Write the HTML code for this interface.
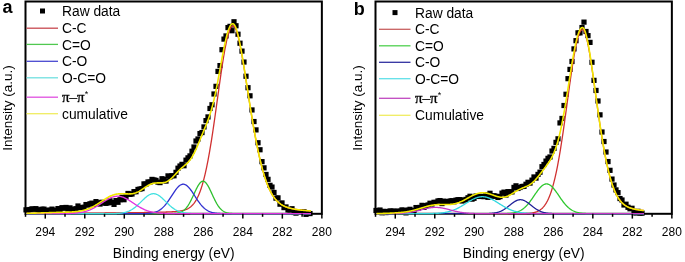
<!DOCTYPE html>
<html><head><meta charset="utf-8"><style>
html,body{margin:0;padding:0;background:#fff;width:685px;height:262px;overflow:hidden}
svg{display:block;will-change:transform}
text{font-family:"Liberation Sans",sans-serif;fill:#000}
</style></head><body>
<svg width="685" height="262" viewBox="0 0 685 262">
<rect x="25.5" y="1.5" width="296.36" height="212.3" fill="none" stroke="#000" stroke-width="2"/>
<g fill="#000"><rect x="23.4" y="207.25" width="5.2" height="5.2"/><rect x="25.4" y="207.55" width="5.2" height="5.2"/><rect x="27.4" y="206.92" width="5.2" height="5.2"/><rect x="29.4" y="206.25" width="5.2" height="5.2"/><rect x="31.4" y="206.68" width="5.2" height="5.2"/><rect x="33.4" y="206.07" width="5.2" height="5.2"/><rect x="35.4" y="207.16" width="5.2" height="5.2"/><rect x="37.4" y="208.48" width="5.2" height="5.2"/><rect x="39.4" y="206.61" width="5.2" height="5.2"/><rect x="41.4" y="206.56" width="5.2" height="5.2"/><rect x="43.4" y="207.82" width="5.2" height="5.2"/><rect x="45.4" y="207.76" width="5.2" height="5.2"/><rect x="47.4" y="207.58" width="5.2" height="5.2"/><rect x="49.4" y="206.54" width="5.2" height="5.2"/><rect x="51.4" y="207.59" width="5.2" height="5.2"/><rect x="53.4" y="208.34" width="5.2" height="5.2"/><rect x="55.4" y="205.99" width="5.2" height="5.2"/><rect x="57.4" y="206.8" width="5.2" height="5.2"/><rect x="59.4" y="205.09" width="5.2" height="5.2"/><rect x="61.4" y="205.61" width="5.2" height="5.2"/><rect x="63.4" y="204.86" width="5.2" height="5.2"/><rect x="65.4" y="206.44" width="5.2" height="5.2"/><rect x="67.4" y="205.28" width="5.2" height="5.2"/><rect x="69.4" y="206.88" width="5.2" height="5.2"/><rect x="71.4" y="206.66" width="5.2" height="5.2"/><rect x="73.4" y="206.14" width="5.2" height="5.2"/><rect x="75.4" y="203.39" width="5.2" height="5.2"/><rect x="77.4" y="205.07" width="5.2" height="5.2"/><rect x="79.4" y="205.05" width="5.2" height="5.2"/><rect x="81.4" y="204.58" width="5.2" height="5.2"/><rect x="83.4" y="201.97" width="5.2" height="5.2"/><rect x="85.4" y="202.48" width="5.2" height="5.2"/><rect x="87.4" y="201.2" width="5.2" height="5.2"/><rect x="89.4" y="200.56" width="5.2" height="5.2"/><rect x="91.4" y="201.85" width="5.2" height="5.2"/><rect x="93.4" y="199.02" width="5.2" height="5.2"/><rect x="95.4" y="200.15" width="5.2" height="5.2"/><rect x="97.4" y="201.44" width="5.2" height="5.2"/><rect x="99.4" y="199.67" width="5.2" height="5.2"/><rect x="101.4" y="200.39" width="5.2" height="5.2"/><rect x="103.4" y="200.72" width="5.2" height="5.2"/><rect x="105.4" y="200.25" width="5.2" height="5.2"/><rect x="107.4" y="198.23" width="5.2" height="5.2"/><rect x="109.4" y="199.9" width="5.2" height="5.2"/><rect x="111.4" y="201.77" width="5.2" height="5.2"/><rect x="113.4" y="197.98" width="5.2" height="5.2"/><rect x="115.4" y="199.69" width="5.2" height="5.2"/><rect x="117.4" y="197.13" width="5.2" height="5.2"/><rect x="119.4" y="194.68" width="5.2" height="5.2"/><rect x="121.4" y="197.11" width="5.2" height="5.2"/><rect x="123.4" y="194.45" width="5.2" height="5.2"/><rect x="125.4" y="190.87" width="5.2" height="5.2"/><rect x="127.4" y="191.76" width="5.2" height="5.2"/><rect x="129.4" y="191.41" width="5.2" height="5.2"/><rect x="131.4" y="189.06" width="5.2" height="5.2"/><rect x="133.4" y="189.12" width="5.2" height="5.2"/><rect x="135.4" y="186.84" width="5.2" height="5.2"/><rect x="137.4" y="186.46" width="5.2" height="5.2"/><rect x="139.4" y="185.98" width="5.2" height="5.2"/><rect x="141.4" y="181.31" width="5.2" height="5.2"/><rect x="143.4" y="181.46" width="5.2" height="5.2"/><rect x="145.4" y="179.39" width="5.2" height="5.2"/><rect x="147.4" y="179.45" width="5.2" height="5.2"/><rect x="149.4" y="176.81" width="5.2" height="5.2"/><rect x="151.4" y="177.36" width="5.2" height="5.2"/><rect x="153.4" y="177.79" width="5.2" height="5.2"/><rect x="155.4" y="179.53" width="5.2" height="5.2"/><rect x="157.4" y="180" width="5.2" height="5.2"/><rect x="159.4" y="176.14" width="5.2" height="5.2"/><rect x="161.4" y="176.77" width="5.2" height="5.2"/><rect x="163.4" y="178.48" width="5.2" height="5.2"/><rect x="165.4" y="173.28" width="5.2" height="5.2"/><rect x="167.4" y="174.31" width="5.2" height="5.2"/><rect x="169.4" y="173.13" width="5.2" height="5.2"/><rect x="171.4" y="173.17" width="5.2" height="5.2"/><rect x="173.4" y="169.72" width="5.2" height="5.2"/><rect x="175.4" y="165.6" width="5.2" height="5.2"/><rect x="177.4" y="163.43" width="5.2" height="5.2"/><rect x="179.4" y="161.76" width="5.2" height="5.2"/><rect x="181.4" y="163.13" width="5.2" height="5.2"/><rect x="183.4" y="157.55" width="5.2" height="5.2"/><rect x="185.4" y="155.24" width="5.2" height="5.2"/><rect x="187.4" y="153.3" width="5.2" height="5.2"/><rect x="189.4" y="148.63" width="5.2" height="5.2"/><rect x="191.4" y="144.41" width="5.2" height="5.2"/><rect x="193.4" y="138.41" width="5.2" height="5.2"/><rect x="195.4" y="136.4" width="5.2" height="5.2"/><rect x="197.4" y="130.97" width="5.2" height="5.2"/><rect x="199.4" y="129.96" width="5.2" height="5.2"/><rect x="201.4" y="124.32" width="5.2" height="5.2"/><rect x="203.4" y="118.02" width="5.2" height="5.2"/><rect x="205.4" y="114.33" width="5.2" height="5.2"/><rect x="207.4" y="105.87" width="5.2" height="5.2"/><rect x="209.4" y="102.16" width="5.2" height="5.2"/><rect x="211.4" y="91.39" width="5.2" height="5.2"/><rect x="213.4" y="83.74" width="5.2" height="5.2"/><rect x="215.4" y="68.83" width="5.2" height="5.2"/><rect x="217.4" y="62.99" width="5.2" height="5.2"/><rect x="219.4" y="47.09" width="5.2" height="5.2"/><rect x="221.4" y="36.51" width="5.2" height="5.2"/><rect x="223.4" y="33.33" width="5.2" height="5.2"/><rect x="225.4" y="24.98" width="5.2" height="5.2"/><rect x="227.4" y="23.77" width="5.2" height="5.2"/><rect x="229.4" y="28.12" width="5.2" height="5.2"/><rect x="231.4" y="19.16" width="5.2" height="5.2"/><rect x="233.4" y="23.15" width="5.2" height="5.2"/><rect x="235.4" y="31.63" width="5.2" height="5.2"/><rect x="237.4" y="40.63" width="5.2" height="5.2"/><rect x="239.4" y="48.51" width="5.2" height="5.2"/><rect x="241.4" y="59.45" width="5.2" height="5.2"/><rect x="243.4" y="73.63" width="5.2" height="5.2"/><rect x="245.4" y="85.1" width="5.2" height="5.2"/><rect x="247.4" y="93.2" width="5.2" height="5.2"/><rect x="249.4" y="107.35" width="5.2" height="5.2"/><rect x="251.4" y="118.94" width="5.2" height="5.2"/><rect x="253.4" y="127.3" width="5.2" height="5.2"/><rect x="255.4" y="140.15" width="5.2" height="5.2"/><rect x="257.4" y="147.16" width="5.2" height="5.2"/><rect x="259.4" y="159.05" width="5.2" height="5.2"/><rect x="261.4" y="165.25" width="5.2" height="5.2"/><rect x="263.4" y="171.87" width="5.2" height="5.2"/><rect x="265.4" y="176.75" width="5.2" height="5.2"/><rect x="267.4" y="182.73" width="5.2" height="5.2"/><rect x="269.4" y="184.45" width="5.2" height="5.2"/><rect x="271.4" y="189.86" width="5.2" height="5.2"/><rect x="273.4" y="195.57" width="5.2" height="5.2"/><rect x="275.4" y="195.27" width="5.2" height="5.2"/><rect x="277.4" y="201.58" width="5.2" height="5.2"/><rect x="279.4" y="200.32" width="5.2" height="5.2"/><rect x="281.4" y="205" width="5.2" height="5.2"/><rect x="283.4" y="204.35" width="5.2" height="5.2"/><rect x="285.4" y="207.3" width="5.2" height="5.2"/><rect x="287.4" y="207.36" width="5.2" height="5.2"/><rect x="289.4" y="206.13" width="5.2" height="5.2"/><rect x="291.4" y="209.87" width="5.2" height="5.2"/><rect x="293.4" y="210.51" width="5.2" height="5.2"/><rect x="295.4" y="209.19" width="5.2" height="5.2"/><rect x="297.4" y="209.31" width="5.2" height="5.2"/><rect x="299.4" y="209.76" width="5.2" height="5.2"/><rect x="301.4" y="209.15" width="5.2" height="5.2"/><rect x="303.4" y="211.74" width="5.2" height="5.2"/><rect x="305.4" y="210.18" width="5.2" height="5.2"/><rect x="307.4" y="210.97" width="5.2" height="5.2"/></g>
<polyline fill="none" stroke="#d03030" stroke-width="1.3" stroke-linejoin="round" points="26.5,213.41 27,213.41 27.5,213.4 28,213.4 28.5,213.4 29,213.4 29.5,213.4 30,213.4 30.5,213.4 31,213.4 31.5,213.39 32,213.39 32.5,213.39 33,213.39 33.5,213.39 34,213.39 34.5,213.39 35,213.38 35.5,213.38 36,213.38 36.5,213.38 37,213.38 37.5,213.38 38,213.38 38.5,213.37 39,213.37 39.5,213.37 40,213.37 40.5,213.37 41,213.37 41.5,213.36 42,213.36 42.5,213.36 43,213.36 43.5,213.36 44,213.36 44.5,213.35 45,213.35 45.5,213.35 46,213.35 46.5,213.35 47,213.35 47.5,213.34 48,213.34 48.5,213.34 49,213.34 49.5,213.34 50,213.34 50.5,213.33 51,213.33 51.5,213.33 52,213.33 52.5,213.33 53,213.32 53.5,213.32 54,213.32 54.5,213.32 55,213.32 55.5,213.31 56,213.31 56.5,213.31 57,213.31 57.5,213.31 58,213.3 58.5,213.3 59,213.3 59.5,213.3 60,213.3 60.5,213.29 61,213.29 61.5,213.29 62,213.29 62.5,213.29 63,213.28 63.5,213.28 64,213.28 64.5,213.28 65,213.28 65.5,213.27 66,213.27 66.5,213.27 67,213.27 67.5,213.26 68,213.26 68.5,213.26 69,213.26 69.5,213.25 70,213.25 70.5,213.25 71,213.25 71.5,213.24 72,213.24 72.5,213.24 73,213.24 73.5,213.23 74,213.23 74.5,213.23 75,213.23 75.5,213.22 76,213.22 76.5,213.22 77,213.22 77.5,213.21 78,213.21 78.5,213.21 79,213.2 79.5,213.2 80,213.2 80.5,213.2 81,213.19 81.5,213.19 82,213.19 82.5,213.18 83,213.18 83.5,213.18 84,213.18 84.5,213.17 85,213.17 85.5,213.17 86,213.16 86.5,213.16 87,213.16 87.5,213.15 88,213.15 88.5,213.15 89,213.14 89.5,213.14 90,213.14 90.5,213.13 91,213.13 91.5,213.13 92,213.12 92.5,213.12 93,213.12 93.5,213.11 94,213.11 94.5,213.11 95,213.1 95.5,213.1 96,213.1 96.5,213.09 97,213.09 97.5,213.08 98,213.08 98.5,213.08 99,213.07 99.5,213.07 100,213.06 100.5,213.06 101,213.06 101.5,213.05 102,213.05 102.5,213.04 103,213.04 103.5,213.04 104,213.03 104.5,213.03 105,213.02 105.5,213.02 106,213.01 106.5,213.01 107,213.01 107.5,213 108,213 108.5,212.99 109,212.99 109.5,212.98 110,212.98 110.5,212.97 111,212.97 111.5,212.96 112,212.96 112.5,212.95 113,212.95 113.5,212.94 114,212.94 114.5,212.93 115,212.93 115.5,212.92 116,212.92 116.5,212.91 117,212.91 117.5,212.9 118,212.9 118.5,212.89 119,212.89 119.5,212.88 120,212.87 120.5,212.87 121,212.86 121.5,212.86 122,212.85 122.5,212.84 123,212.84 123.5,212.83 124,212.83 124.5,212.82 125,212.81 125.5,212.81 126,212.8 126.5,212.8 127,212.79 127.5,212.78 128,212.78 128.5,212.77 129,212.76 129.5,212.76 130,212.75 130.5,212.74 131,212.73 131.5,212.73 132,212.72 132.5,212.71 133,212.71 133.5,212.7 134,212.69 134.5,212.68 135,212.68 135.5,212.67 136,212.66 136.5,212.65 137,212.64 137.5,212.64 138,212.63 138.5,212.62 139,212.61 139.5,212.6 140,212.6 140.5,212.59 141,212.58 141.5,212.57 142,212.56 142.5,212.55 143,212.54 143.5,212.54 144,212.53 144.5,212.52 145,212.51 145.5,212.5 146,212.49 146.5,212.48 147,212.47 147.5,212.46 148,212.45 148.5,212.44 149,212.43 149.5,212.42 150,212.41 150.5,212.4 151,212.39 151.5,212.38 152,212.37 152.5,212.36 153,212.35 153.5,212.34 154,212.33 154.5,212.31 155,212.3 155.5,212.29 156,212.28 156.5,212.27 157,212.26 157.5,212.24 158,212.23 158.5,212.22 159,212.21 159.5,212.2 160,212.18 160.5,212.17 161,212.16 161.5,212.14 162,212.13 162.5,212.12 163,212.1 163.5,212.09 164,212.07 164.5,212.06 165,212.04 165.5,212.03 166,212.01 166.5,212 167,211.98 167.5,211.96 168,211.94 168.5,211.93 169,211.91 169.5,211.89 170,211.87 170.5,211.84 171,211.82 171.5,211.8 172,211.77 172.5,211.75 173,211.72 173.5,211.69 174,211.66 174.5,211.63 175,211.59 175.5,211.55 176,211.51 176.5,211.47 177,211.42 177.5,211.37 178,211.32 178.5,211.26 179,211.2 179.5,211.13 180,211.06 180.5,210.98 181,210.89 181.5,210.8 182,210.7 182.5,210.59 183,210.47 183.5,210.34 184,210.2 184.5,210.05 185,209.89 185.5,209.71 186,209.52 186.5,209.31 187,209.08 187.5,208.84 188,208.58 188.5,208.29 189,207.98 189.5,207.65 190,207.29 190.5,206.91 191,206.5 191.5,206.05 192,205.57 192.5,205.06 193,204.51 193.5,203.92 194,203.29 194.5,202.62 195,201.9 195.5,201.14 196,200.32 196.5,199.46 197,198.53 197.5,197.56 198,196.52 198.5,195.42 199,194.26 199.5,193.03 200,191.73 200.5,190.37 201,188.93 201.5,187.42 202,185.83 202.5,184.16 203,182.42 203.5,180.59 204,178.68 204.5,176.69 205,174.61 205.5,172.45 206,170.21 206.5,167.88 207,165.46 207.5,162.96 208,160.38 208.5,157.71 209,154.96 209.5,152.13 210,149.22 210.5,146.23 211,143.17 211.5,140.04 212,136.85 212.5,133.59 213,130.27 213.5,126.89 214,123.46 214.5,119.99 215,116.48 215.5,112.94 216,109.36 216.5,105.77 217,102.16 217.5,98.55 218,94.94 218.5,91.33 219,87.74 219.5,84.18 220,80.64 220.5,77.15 221,73.7 221.5,70.32 222,66.99 222.5,63.75 223,60.58 223.5,57.51 224,54.53 224.5,51.67 225,48.92 225.5,46.29 226,43.79 226.5,41.44 227,39.22 227.5,37.16 228,35.26 228.5,33.52 229,31.94 229.5,30.55 230,29.32 230.5,28.28 231,27.43 231.5,26.76 232,26.28 232.5,26 233,25.9 233.5,26.01 234,26.33 234.5,26.86 235,27.61 235.5,28.56 236,29.7 236.5,31.04 237,32.56 237.5,34.26 238,36.12 238.5,38.14 239,40.3 239.5,42.59 240,45.01 240.5,47.55 241,50.18 241.5,52.92 242,55.73 242.5,58.62 243,61.58 243.5,64.59 244,67.65 244.5,70.75 245,73.88 245.5,77.04 246,80.22 246.5,83.41 247,86.61 247.5,89.81 248,93 248.5,96.19 249,99.36 249.5,102.52 250,105.66 250.5,108.77 251,111.85 251.5,114.89 252,117.91 252.5,120.88 253,123.81 253.5,126.7 254,129.54 254.5,132.34 255,135.08 255.5,137.77 256,140.41 256.5,142.99 257,145.52 257.5,147.99 258,150.4 258.5,152.75 259,155.04 259.5,157.27 260,159.44 260.5,161.55 261,163.59 261.5,165.58 262,167.5 262.5,169.37 263,171.17 263.5,172.92 264,174.6 264.5,176.23 265,177.79 265.5,179.3 266,180.76 266.5,182.16 267,183.5 267.5,184.79 268,186.03 268.5,187.22 269,188.36 269.5,189.45 270,190.5 270.5,191.5 271,192.45 271.5,193.36 272,194.23 272.5,195.06 273,195.85 273.5,196.61 274,197.33 274.5,198.01 275,198.66 275.5,199.28 276,199.86 276.5,200.42 277,200.95 277.5,201.45 278,201.93 278.5,202.38 279,202.81 279.5,203.22 280,203.6 280.5,203.97 281,204.32 281.5,204.64 282,204.95 282.5,205.25 283,205.53 283.5,205.79 284,206.04 284.5,206.28 285,206.5 285.5,206.72 286,206.92 286.5,207.11 287,207.29 287.5,207.47 288,207.63 288.5,207.79 289,207.94 289.5,208.08 290,208.21 290.5,208.34 291,208.46 291.5,208.58 292,208.69 292.5,208.8 293,208.9 293.5,208.99 294,209.09 294.5,209.18 295,209.26 295.5,209.35 296,209.43 296.5,209.5 297,209.58 297.5,209.65 298,209.72 298.5,209.78 299,209.85 299.5,209.91 300,209.97 300.5,210.03 301,210.08 301.5,210.14 302,210.19 302.5,210.24 303,210.29 303.5,210.34 304,210.39 304.5,210.43 305,210.48 305.5,210.52 306,210.57 306.5,210.61 307,210.65 307.5,210.69 308,210.73 308.5,210.77 309,210.81 309.5,210.84 310,210.88 310.5,210.91 311,210.95"/>
<polyline fill="none" stroke="#30c030" stroke-width="1.3" stroke-linejoin="round" points="26.5,213.7 27,213.7 27.5,213.7 28,213.7 28.5,213.7 29,213.7 29.5,213.7 30,213.7 30.5,213.7 31,213.7 31.5,213.7 32,213.7 32.5,213.7 33,213.7 33.5,213.7 34,213.7 34.5,213.7 35,213.7 35.5,213.7 36,213.7 36.5,213.7 37,213.7 37.5,213.7 38,213.7 38.5,213.7 39,213.7 39.5,213.7 40,213.7 40.5,213.7 41,213.7 41.5,213.7 42,213.7 42.5,213.7 43,213.7 43.5,213.7 44,213.7 44.5,213.7 45,213.7 45.5,213.7 46,213.7 46.5,213.7 47,213.7 47.5,213.7 48,213.7 48.5,213.7 49,213.7 49.5,213.7 50,213.7 50.5,213.7 51,213.7 51.5,213.7 52,213.7 52.5,213.7 53,213.7 53.5,213.7 54,213.7 54.5,213.7 55,213.7 55.5,213.7 56,213.7 56.5,213.7 57,213.7 57.5,213.7 58,213.7 58.5,213.7 59,213.7 59.5,213.7 60,213.7 60.5,213.7 61,213.7 61.5,213.7 62,213.7 62.5,213.7 63,213.7 63.5,213.7 64,213.7 64.5,213.7 65,213.7 65.5,213.7 66,213.7 66.5,213.7 67,213.7 67.5,213.7 68,213.7 68.5,213.7 69,213.7 69.5,213.7 70,213.7 70.5,213.7 71,213.7 71.5,213.7 72,213.7 72.5,213.7 73,213.7 73.5,213.7 74,213.7 74.5,213.7 75,213.7 75.5,213.7 76,213.7 76.5,213.7 77,213.7 77.5,213.7 78,213.7 78.5,213.7 79,213.7 79.5,213.7 80,213.7 80.5,213.7 81,213.7 81.5,213.7 82,213.7 82.5,213.7 83,213.7 83.5,213.7 84,213.7 84.5,213.7 85,213.7 85.5,213.7 86,213.7 86.5,213.7 87,213.7 87.5,213.7 88,213.7 88.5,213.7 89,213.7 89.5,213.7 90,213.7 90.5,213.7 91,213.7 91.5,213.7 92,213.7 92.5,213.7 93,213.7 93.5,213.7 94,213.7 94.5,213.7 95,213.7 95.5,213.7 96,213.7 96.5,213.7 97,213.7 97.5,213.7 98,213.7 98.5,213.7 99,213.7 99.5,213.7 100,213.7 100.5,213.7 101,213.7 101.5,213.7 102,213.7 102.5,213.7 103,213.7 103.5,213.7 104,213.7 104.5,213.7 105,213.7 105.5,213.7 106,213.7 106.5,213.7 107,213.7 107.5,213.7 108,213.7 108.5,213.7 109,213.7 109.5,213.7 110,213.7 110.5,213.7 111,213.7 111.5,213.7 112,213.7 112.5,213.7 113,213.7 113.5,213.7 114,213.7 114.5,213.7 115,213.7 115.5,213.7 116,213.7 116.5,213.7 117,213.7 117.5,213.7 118,213.7 118.5,213.7 119,213.7 119.5,213.7 120,213.7 120.5,213.7 121,213.7 121.5,213.7 122,213.7 122.5,213.7 123,213.7 123.5,213.7 124,213.7 124.5,213.7 125,213.7 125.5,213.7 126,213.7 126.5,213.7 127,213.7 127.5,213.7 128,213.7 128.5,213.7 129,213.7 129.5,213.7 130,213.7 130.5,213.7 131,213.7 131.5,213.7 132,213.7 132.5,213.7 133,213.7 133.5,213.7 134,213.7 134.5,213.7 135,213.7 135.5,213.7 136,213.7 136.5,213.7 137,213.7 137.5,213.7 138,213.7 138.5,213.7 139,213.7 139.5,213.7 140,213.7 140.5,213.7 141,213.7 141.5,213.7 142,213.7 142.5,213.7 143,213.7 143.5,213.7 144,213.7 144.5,213.7 145,213.7 145.5,213.7 146,213.7 146.5,213.7 147,213.7 147.5,213.7 148,213.7 148.5,213.7 149,213.7 149.5,213.7 150,213.7 150.5,213.7 151,213.7 151.5,213.7 152,213.7 152.5,213.7 153,213.7 153.5,213.7 154,213.7 154.5,213.7 155,213.7 155.5,213.7 156,213.7 156.5,213.7 157,213.7 157.5,213.7 158,213.7 158.5,213.7 159,213.7 159.5,213.7 160,213.7 160.5,213.7 161,213.7 161.5,213.7 162,213.7 162.5,213.7 163,213.7 163.5,213.7 164,213.7 164.5,213.7 165,213.7 165.5,213.69 166,213.69 166.5,213.69 167,213.69 167.5,213.69 168,213.68 168.5,213.68 169,213.67 169.5,213.67 170,213.66 170.5,213.65 171,213.64 171.5,213.63 172,213.61 172.5,213.6 173,213.57 173.5,213.55 174,213.52 174.5,213.48 175,213.44 175.5,213.39 176,213.34 176.5,213.27 177,213.2 177.5,213.11 178,213.01 178.5,212.9 179,212.77 179.5,212.63 180,212.46 180.5,212.27 181,212.06 181.5,211.83 182,211.56 182.5,211.27 183,210.95 183.5,210.59 184,210.2 184.5,209.77 185,209.3 185.5,208.79 186,208.24 186.5,207.65 187,207.01 187.5,206.32 188,205.6 188.5,204.82 189,204.01 189.5,203.15 190,202.25 190.5,201.31 191,200.34 191.5,199.33 192,198.3 192.5,197.24 193,196.17 193.5,195.08 194,193.99 194.5,192.89 195,191.81 195.5,190.73 196,189.68 196.5,188.66 197,187.68 197.5,186.74 198,185.85 198.5,185.02 199,184.26 199.5,183.57 200,182.96 200.5,182.43 201,181.99 201.5,181.65 202,181.4 202.5,181.25 203,181.2 203.5,181.25 204,181.4 204.5,181.65 205,181.99 205.5,182.43 206,182.96 206.5,183.57 207,184.26 207.5,185.02 208,185.85 208.5,186.74 209,187.68 209.5,188.66 210,189.68 210.5,190.73 211,191.81 211.5,192.89 212,193.99 212.5,195.08 213,196.17 213.5,197.24 214,198.3 214.5,199.33 215,200.34 215.5,201.31 216,202.25 216.5,203.15 217,204.01 217.5,204.82 218,205.6 218.5,206.32 219,207.01 219.5,207.65 220,208.24 220.5,208.79 221,209.3 221.5,209.77 222,210.2 222.5,210.59 223,210.95 223.5,211.27 224,211.56 224.5,211.83 225,212.06 225.5,212.27 226,212.46 226.5,212.63 227,212.77 227.5,212.9 228,213.01 228.5,213.11 229,213.2 229.5,213.27 230,213.34 230.5,213.39 231,213.44 231.5,213.48 232,213.52 232.5,213.55 233,213.57 233.5,213.6 234,213.61 234.5,213.63 235,213.64 235.5,213.65 236,213.66 236.5,213.67 237,213.67 237.5,213.68 238,213.68 238.5,213.69 239,213.69 239.5,213.69 240,213.69 240.5,213.69 241,213.7 241.5,213.7 242,213.7 242.5,213.7 243,213.7 243.5,213.7 244,213.7 244.5,213.7 245,213.7 245.5,213.7 246,213.7 246.5,213.7 247,213.7 247.5,213.7 248,213.7 248.5,213.7 249,213.7 249.5,213.7 250,213.7 250.5,213.7 251,213.7 251.5,213.7 252,213.7 252.5,213.7 253,213.7 253.5,213.7 254,213.7 254.5,213.7 255,213.7 255.5,213.7 256,213.7 256.5,213.7 257,213.7 257.5,213.7 258,213.7 258.5,213.7 259,213.7 259.5,213.7 260,213.7 260.5,213.7 261,213.7 261.5,213.7 262,213.7 262.5,213.7 263,213.7 263.5,213.7 264,213.7 264.5,213.7 265,213.7 265.5,213.7 266,213.7 266.5,213.7 267,213.7 267.5,213.7 268,213.7 268.5,213.7 269,213.7 269.5,213.7 270,213.7 270.5,213.7 271,213.7 271.5,213.7 272,213.7 272.5,213.7 273,213.7 273.5,213.7 274,213.7 274.5,213.7 275,213.7 275.5,213.7 276,213.7 276.5,213.7 277,213.7 277.5,213.7 278,213.7 278.5,213.7 279,213.7 279.5,213.7 280,213.7 280.5,213.7 281,213.7 281.5,213.7 282,213.7 282.5,213.7 283,213.7 283.5,213.7 284,213.7 284.5,213.7 285,213.7 285.5,213.7 286,213.7 286.5,213.7 287,213.7 287.5,213.7 288,213.7 288.5,213.7 289,213.7 289.5,213.7 290,213.7 290.5,213.7 291,213.7 291.5,213.7 292,213.7 292.5,213.7 293,213.7 293.5,213.7 294,213.7 294.5,213.7 295,213.7 295.5,213.7 296,213.7 296.5,213.7 297,213.7 297.5,213.7 298,213.7 298.5,213.7 299,213.7 299.5,213.7 300,213.7 300.5,213.7 301,213.7 301.5,213.7 302,213.7 302.5,213.7 303,213.7 303.5,213.7 304,213.7 304.5,213.7 305,213.7 305.5,213.7 306,213.7 306.5,213.7 307,213.7 307.5,213.7 308,213.7 308.5,213.7 309,213.7 309.5,213.7 310,213.7 310.5,213.7 311,213.7"/>
<polyline fill="none" stroke="#3030d0" stroke-width="1.3" stroke-linejoin="round" points="26.5,213.7 27,213.7 27.5,213.7 28,213.7 28.5,213.7 29,213.7 29.5,213.7 30,213.7 30.5,213.7 31,213.7 31.5,213.7 32,213.7 32.5,213.7 33,213.7 33.5,213.7 34,213.7 34.5,213.7 35,213.7 35.5,213.7 36,213.7 36.5,213.7 37,213.7 37.5,213.7 38,213.7 38.5,213.7 39,213.7 39.5,213.7 40,213.7 40.5,213.7 41,213.7 41.5,213.7 42,213.7 42.5,213.7 43,213.7 43.5,213.7 44,213.7 44.5,213.7 45,213.7 45.5,213.7 46,213.7 46.5,213.7 47,213.7 47.5,213.7 48,213.7 48.5,213.7 49,213.7 49.5,213.7 50,213.7 50.5,213.7 51,213.7 51.5,213.7 52,213.7 52.5,213.7 53,213.7 53.5,213.7 54,213.7 54.5,213.7 55,213.7 55.5,213.7 56,213.7 56.5,213.7 57,213.7 57.5,213.7 58,213.7 58.5,213.7 59,213.7 59.5,213.7 60,213.7 60.5,213.7 61,213.7 61.5,213.7 62,213.7 62.5,213.7 63,213.7 63.5,213.7 64,213.7 64.5,213.7 65,213.7 65.5,213.7 66,213.7 66.5,213.7 67,213.7 67.5,213.7 68,213.7 68.5,213.7 69,213.7 69.5,213.7 70,213.7 70.5,213.7 71,213.7 71.5,213.7 72,213.7 72.5,213.7 73,213.7 73.5,213.7 74,213.7 74.5,213.7 75,213.7 75.5,213.7 76,213.7 76.5,213.7 77,213.7 77.5,213.7 78,213.7 78.5,213.7 79,213.7 79.5,213.7 80,213.7 80.5,213.7 81,213.7 81.5,213.7 82,213.7 82.5,213.7 83,213.7 83.5,213.7 84,213.7 84.5,213.7 85,213.7 85.5,213.7 86,213.7 86.5,213.7 87,213.7 87.5,213.7 88,213.7 88.5,213.7 89,213.7 89.5,213.7 90,213.7 90.5,213.7 91,213.7 91.5,213.7 92,213.7 92.5,213.7 93,213.7 93.5,213.7 94,213.7 94.5,213.7 95,213.7 95.5,213.7 96,213.7 96.5,213.7 97,213.7 97.5,213.7 98,213.7 98.5,213.7 99,213.7 99.5,213.7 100,213.7 100.5,213.7 101,213.7 101.5,213.7 102,213.7 102.5,213.7 103,213.7 103.5,213.7 104,213.7 104.5,213.7 105,213.7 105.5,213.7 106,213.7 106.5,213.7 107,213.7 107.5,213.7 108,213.7 108.5,213.7 109,213.7 109.5,213.7 110,213.7 110.5,213.7 111,213.7 111.5,213.7 112,213.7 112.5,213.7 113,213.7 113.5,213.7 114,213.7 114.5,213.7 115,213.7 115.5,213.7 116,213.7 116.5,213.7 117,213.7 117.5,213.7 118,213.7 118.5,213.7 119,213.7 119.5,213.7 120,213.7 120.5,213.7 121,213.7 121.5,213.7 122,213.7 122.5,213.7 123,213.7 123.5,213.7 124,213.7 124.5,213.7 125,213.7 125.5,213.7 126,213.7 126.5,213.7 127,213.7 127.5,213.7 128,213.7 128.5,213.7 129,213.7 129.5,213.7 130,213.7 130.5,213.7 131,213.7 131.5,213.7 132,213.7 132.5,213.7 133,213.7 133.5,213.7 134,213.7 134.5,213.7 135,213.7 135.5,213.69 136,213.69 136.5,213.69 137,213.69 137.5,213.69 138,213.69 138.5,213.68 139,213.68 139.5,213.68 140,213.67 140.5,213.67 141,213.66 141.5,213.66 142,213.65 142.5,213.64 143,213.63 143.5,213.62 144,213.61 144.5,213.6 145,213.58 145.5,213.56 146,213.54 146.5,213.52 147,213.49 147.5,213.46 148,213.43 148.5,213.39 149,213.35 149.5,213.3 150,213.24 150.5,213.18 151,213.11 151.5,213.04 152,212.96 152.5,212.86 153,212.76 153.5,212.65 154,212.53 154.5,212.39 155,212.24 155.5,212.08 156,211.9 156.5,211.71 157,211.5 157.5,211.27 158,211.03 158.5,210.76 159,210.48 159.5,210.17 160,209.84 160.5,209.5 161,209.12 161.5,208.73 162,208.31 162.5,207.86 163,207.39 163.5,206.9 164,206.38 164.5,205.84 165,205.27 165.5,204.68 166,204.06 166.5,203.42 167,202.76 167.5,202.08 168,201.38 168.5,200.67 169,199.94 169.5,199.19 170,198.43 170.5,197.67 171,196.9 171.5,196.12 172,195.34 172.5,194.56 173,193.79 173.5,193.03 174,192.28 174.5,191.54 175,190.82 175.5,190.12 176,189.45 176.5,188.8 177,188.19 177.5,187.61 178,187.07 178.5,186.56 179,186.1 179.5,185.69 180,185.32 180.5,185 181,184.73 181.5,184.52 182,184.36 182.5,184.25 183,184.2 183.5,184.21 184,184.27 184.5,184.39 185,184.56 185.5,184.78 186,185.06 186.5,185.39 187,185.77 187.5,186.19 188,186.66 188.5,187.17 189,187.72 189.5,188.31 190,188.93 190.5,189.58 191,190.26 191.5,190.96 192,191.69 192.5,192.43 193,193.18 193.5,193.95 194,194.72 194.5,195.5 195,196.27 195.5,197.05 196,197.82 196.5,198.59 197,199.34 197.5,200.08 198,200.81 198.5,201.53 199,202.22 199.5,202.9 200,203.55 200.5,204.19 201,204.8 201.5,205.38 202,205.95 202.5,206.49 203,207 203.5,207.49 204,207.95 204.5,208.39 205,208.81 205.5,209.2 206,209.57 206.5,209.91 207,210.23 207.5,210.54 208,210.82 208.5,211.08 209,211.32 209.5,211.54 210,211.75 210.5,211.94 211,212.11 211.5,212.27 212,212.42 212.5,212.55 213,212.67 213.5,212.78 214,212.88 214.5,212.97 215,213.06 215.5,213.13 216,213.19 216.5,213.25 217,213.31 217.5,213.35 218,213.4 218.5,213.43 219,213.47 219.5,213.5 220,213.52 220.5,213.55 221,213.57 221.5,213.58 222,213.6 222.5,213.61 223,213.63 223.5,213.64 224,213.65 224.5,213.65 225,213.66 225.5,213.67 226,213.67 226.5,213.68 227,213.68 227.5,213.68 228,213.69 228.5,213.69 229,213.69 229.5,213.69 230,213.69 230.5,213.69 231,213.69 231.5,213.7 232,213.7 232.5,213.7 233,213.7 233.5,213.7 234,213.7 234.5,213.7 235,213.7 235.5,213.7 236,213.7 236.5,213.7 237,213.7 237.5,213.7 238,213.7 238.5,213.7 239,213.7 239.5,213.7 240,213.7 240.5,213.7 241,213.7 241.5,213.7 242,213.7 242.5,213.7 243,213.7 243.5,213.7 244,213.7 244.5,213.7 245,213.7 245.5,213.7 246,213.7 246.5,213.7 247,213.7 247.5,213.7 248,213.7 248.5,213.7 249,213.7 249.5,213.7 250,213.7 250.5,213.7 251,213.7 251.5,213.7 252,213.7 252.5,213.7 253,213.7 253.5,213.7 254,213.7 254.5,213.7 255,213.7 255.5,213.7 256,213.7 256.5,213.7 257,213.7 257.5,213.7 258,213.7 258.5,213.7 259,213.7 259.5,213.7 260,213.7 260.5,213.7 261,213.7 261.5,213.7 262,213.7 262.5,213.7 263,213.7 263.5,213.7 264,213.7 264.5,213.7 265,213.7 265.5,213.7 266,213.7 266.5,213.7 267,213.7 267.5,213.7 268,213.7 268.5,213.7 269,213.7 269.5,213.7 270,213.7 270.5,213.7 271,213.7 271.5,213.7 272,213.7 272.5,213.7 273,213.7 273.5,213.7 274,213.7 274.5,213.7 275,213.7 275.5,213.7 276,213.7 276.5,213.7 277,213.7 277.5,213.7 278,213.7 278.5,213.7 279,213.7 279.5,213.7 280,213.7 280.5,213.7 281,213.7 281.5,213.7 282,213.7 282.5,213.7 283,213.7 283.5,213.7 284,213.7 284.5,213.7 285,213.7 285.5,213.7 286,213.7 286.5,213.7 287,213.7 287.5,213.7 288,213.7 288.5,213.7 289,213.7 289.5,213.7 290,213.7 290.5,213.7 291,213.7 291.5,213.7 292,213.7 292.5,213.7 293,213.7 293.5,213.7 294,213.7 294.5,213.7 295,213.7 295.5,213.7 296,213.7 296.5,213.7 297,213.7 297.5,213.7 298,213.7 298.5,213.7 299,213.7 299.5,213.7 300,213.7 300.5,213.7 301,213.7 301.5,213.7 302,213.7 302.5,213.7 303,213.7 303.5,213.7 304,213.7 304.5,213.7 305,213.7 305.5,213.7 306,213.7 306.5,213.7 307,213.7 307.5,213.7 308,213.7 308.5,213.7 309,213.7 309.5,213.7 310,213.7 310.5,213.7 311,213.7"/>
<polyline fill="none" stroke="#40e0e0" stroke-width="1.3" stroke-linejoin="round" points="26.5,213.7 27,213.7 27.5,213.7 28,213.7 28.5,213.7 29,213.7 29.5,213.7 30,213.7 30.5,213.7 31,213.7 31.5,213.7 32,213.7 32.5,213.7 33,213.7 33.5,213.7 34,213.7 34.5,213.7 35,213.7 35.5,213.7 36,213.7 36.5,213.7 37,213.7 37.5,213.7 38,213.7 38.5,213.7 39,213.7 39.5,213.7 40,213.7 40.5,213.7 41,213.7 41.5,213.7 42,213.7 42.5,213.7 43,213.7 43.5,213.7 44,213.7 44.5,213.7 45,213.7 45.5,213.7 46,213.7 46.5,213.7 47,213.7 47.5,213.7 48,213.7 48.5,213.7 49,213.7 49.5,213.7 50,213.7 50.5,213.7 51,213.7 51.5,213.7 52,213.7 52.5,213.7 53,213.7 53.5,213.7 54,213.7 54.5,213.7 55,213.7 55.5,213.7 56,213.7 56.5,213.7 57,213.7 57.5,213.7 58,213.7 58.5,213.7 59,213.7 59.5,213.7 60,213.7 60.5,213.7 61,213.7 61.5,213.7 62,213.7 62.5,213.7 63,213.7 63.5,213.7 64,213.7 64.5,213.7 65,213.7 65.5,213.7 66,213.7 66.5,213.7 67,213.7 67.5,213.7 68,213.7 68.5,213.7 69,213.7 69.5,213.7 70,213.7 70.5,213.7 71,213.7 71.5,213.7 72,213.7 72.5,213.7 73,213.7 73.5,213.7 74,213.7 74.5,213.7 75,213.7 75.5,213.7 76,213.7 76.5,213.7 77,213.7 77.5,213.7 78,213.7 78.5,213.7 79,213.7 79.5,213.7 80,213.7 80.5,213.7 81,213.7 81.5,213.7 82,213.7 82.5,213.7 83,213.7 83.5,213.7 84,213.7 84.5,213.7 85,213.7 85.5,213.7 86,213.7 86.5,213.7 87,213.7 87.5,213.7 88,213.7 88.5,213.7 89,213.7 89.5,213.7 90,213.7 90.5,213.7 91,213.7 91.5,213.7 92,213.7 92.5,213.7 93,213.7 93.5,213.7 94,213.7 94.5,213.7 95,213.7 95.5,213.7 96,213.7 96.5,213.7 97,213.7 97.5,213.7 98,213.7 98.5,213.7 99,213.7 99.5,213.7 100,213.7 100.5,213.7 101,213.7 101.5,213.7 102,213.7 102.5,213.7 103,213.7 103.5,213.7 104,213.69 104.5,213.69 105,213.69 105.5,213.69 106,213.69 106.5,213.69 107,213.69 107.5,213.68 108,213.68 108.5,213.68 109,213.67 109.5,213.67 110,213.67 110.5,213.66 111,213.65 111.5,213.65 112,213.64 112.5,213.63 113,213.62 113.5,213.61 114,213.59 114.5,213.58 115,213.56 115.5,213.54 116,213.52 116.5,213.5 117,213.47 117.5,213.44 118,213.41 118.5,213.37 119,213.33 119.5,213.29 120,213.24 120.5,213.18 121,213.12 121.5,213.06 122,212.99 122.5,212.91 123,212.82 123.5,212.73 124,212.63 124.5,212.51 125,212.39 125.5,212.26 126,212.12 126.5,211.97 127,211.81 127.5,211.64 128,211.45 128.5,211.25 129,211.04 129.5,210.81 130,210.57 130.5,210.32 131,210.05 131.5,209.77 132,209.47 132.5,209.15 133,208.83 133.5,208.48 134,208.12 134.5,207.75 135,207.37 135.5,206.97 136,206.55 136.5,206.12 137,205.69 137.5,205.24 138,204.78 138.5,204.31 139,203.83 139.5,203.35 140,202.86 140.5,202.36 141,201.87 141.5,201.37 142,200.87 142.5,200.38 143,199.89 143.5,199.41 144,198.93 144.5,198.46 145,198.01 145.5,197.57 146,197.14 146.5,196.74 147,196.35 147.5,195.98 148,195.63 148.5,195.31 149,195.02 149.5,194.75 150,194.51 150.5,194.3 151,194.12 151.5,193.97 152,193.85 152.5,193.77 153,193.72 153.5,193.7 154,193.72 154.5,193.77 155,193.85 155.5,193.97 156,194.12 156.5,194.3 157,194.51 157.5,194.75 158,195.02 158.5,195.31 159,195.63 159.5,195.98 160,196.35 160.5,196.74 161,197.14 161.5,197.57 162,198.01 162.5,198.46 163,198.93 163.5,199.41 164,199.89 164.5,200.38 165,200.87 165.5,201.37 166,201.87 166.5,202.36 167,202.86 167.5,203.35 168,203.83 168.5,204.31 169,204.78 169.5,205.24 170,205.69 170.5,206.12 171,206.55 171.5,206.97 172,207.37 172.5,207.75 173,208.12 173.5,208.48 174,208.83 174.5,209.15 175,209.47 175.5,209.77 176,210.05 176.5,210.32 177,210.57 177.5,210.81 178,211.04 178.5,211.25 179,211.45 179.5,211.64 180,211.81 180.5,211.97 181,212.12 181.5,212.26 182,212.39 182.5,212.51 183,212.63 183.5,212.73 184,212.82 184.5,212.91 185,212.99 185.5,213.06 186,213.12 186.5,213.18 187,213.24 187.5,213.29 188,213.33 188.5,213.37 189,213.41 189.5,213.44 190,213.47 190.5,213.5 191,213.52 191.5,213.54 192,213.56 192.5,213.58 193,213.59 193.5,213.61 194,213.62 194.5,213.63 195,213.64 195.5,213.65 196,213.65 196.5,213.66 197,213.67 197.5,213.67 198,213.67 198.5,213.68 199,213.68 199.5,213.68 200,213.69 200.5,213.69 201,213.69 201.5,213.69 202,213.69 202.5,213.69 203,213.69 203.5,213.7 204,213.7 204.5,213.7 205,213.7 205.5,213.7 206,213.7 206.5,213.7 207,213.7 207.5,213.7 208,213.7 208.5,213.7 209,213.7 209.5,213.7 210,213.7 210.5,213.7 211,213.7 211.5,213.7 212,213.7 212.5,213.7 213,213.7 213.5,213.7 214,213.7 214.5,213.7 215,213.7 215.5,213.7 216,213.7 216.5,213.7 217,213.7 217.5,213.7 218,213.7 218.5,213.7 219,213.7 219.5,213.7 220,213.7 220.5,213.7 221,213.7 221.5,213.7 222,213.7 222.5,213.7 223,213.7 223.5,213.7 224,213.7 224.5,213.7 225,213.7 225.5,213.7 226,213.7 226.5,213.7 227,213.7 227.5,213.7 228,213.7 228.5,213.7 229,213.7 229.5,213.7 230,213.7 230.5,213.7 231,213.7 231.5,213.7 232,213.7 232.5,213.7 233,213.7 233.5,213.7 234,213.7 234.5,213.7 235,213.7 235.5,213.7 236,213.7 236.5,213.7 237,213.7 237.5,213.7 238,213.7 238.5,213.7 239,213.7 239.5,213.7 240,213.7 240.5,213.7 241,213.7 241.5,213.7 242,213.7 242.5,213.7 243,213.7 243.5,213.7 244,213.7 244.5,213.7 245,213.7 245.5,213.7 246,213.7 246.5,213.7 247,213.7 247.5,213.7 248,213.7 248.5,213.7 249,213.7 249.5,213.7 250,213.7 250.5,213.7 251,213.7 251.5,213.7 252,213.7 252.5,213.7 253,213.7 253.5,213.7 254,213.7 254.5,213.7 255,213.7 255.5,213.7 256,213.7 256.5,213.7 257,213.7 257.5,213.7 258,213.7 258.5,213.7 259,213.7 259.5,213.7 260,213.7 260.5,213.7 261,213.7 261.5,213.7 262,213.7 262.5,213.7 263,213.7 263.5,213.7 264,213.7 264.5,213.7 265,213.7 265.5,213.7 266,213.7 266.5,213.7 267,213.7 267.5,213.7 268,213.7 268.5,213.7 269,213.7 269.5,213.7 270,213.7 270.5,213.7 271,213.7 271.5,213.7 272,213.7 272.5,213.7 273,213.7 273.5,213.7 274,213.7 274.5,213.7 275,213.7 275.5,213.7 276,213.7 276.5,213.7 277,213.7 277.5,213.7 278,213.7 278.5,213.7 279,213.7 279.5,213.7 280,213.7 280.5,213.7 281,213.7 281.5,213.7 282,213.7 282.5,213.7 283,213.7 283.5,213.7 284,213.7 284.5,213.7 285,213.7 285.5,213.7 286,213.7 286.5,213.7 287,213.7 287.5,213.7 288,213.7 288.5,213.7 289,213.7 289.5,213.7 290,213.7 290.5,213.7 291,213.7 291.5,213.7 292,213.7 292.5,213.7 293,213.7 293.5,213.7 294,213.7 294.5,213.7 295,213.7 295.5,213.7 296,213.7 296.5,213.7 297,213.7 297.5,213.7 298,213.7 298.5,213.7 299,213.7 299.5,213.7 300,213.7 300.5,213.7 301,213.7 301.5,213.7 302,213.7 302.5,213.7 303,213.7 303.5,213.7 304,213.7 304.5,213.7 305,213.7 305.5,213.7 306,213.7 306.5,213.7 307,213.7 307.5,213.7 308,213.7 308.5,213.7 309,213.7 309.5,213.7 310,213.7 310.5,213.7 311,213.7"/>
<polyline fill="none" stroke="#e030e0" stroke-width="1.3" stroke-linejoin="round" points="26.5,213.7 27,213.7 27.5,213.7 28,213.7 28.5,213.7 29,213.7 29.5,213.7 30,213.7 30.5,213.7 31,213.7 31.5,213.7 32,213.7 32.5,213.7 33,213.7 33.5,213.7 34,213.7 34.5,213.7 35,213.7 35.5,213.7 36,213.7 36.5,213.7 37,213.7 37.5,213.7 38,213.7 38.5,213.7 39,213.7 39.5,213.7 40,213.7 40.5,213.7 41,213.7 41.5,213.7 42,213.7 42.5,213.7 43,213.7 43.5,213.7 44,213.7 44.5,213.7 45,213.7 45.5,213.7 46,213.7 46.5,213.7 47,213.7 47.5,213.7 48,213.7 48.5,213.7 49,213.7 49.5,213.7 50,213.7 50.5,213.7 51,213.7 51.5,213.7 52,213.7 52.5,213.7 53,213.7 53.5,213.7 54,213.69 54.5,213.69 55,213.69 55.5,213.69 56,213.69 56.5,213.69 57,213.69 57.5,213.69 58,213.69 58.5,213.68 59,213.68 59.5,213.68 60,213.68 60.5,213.67 61,213.67 61.5,213.67 62,213.66 62.5,213.66 63,213.65 63.5,213.65 64,213.64 64.5,213.64 65,213.63 65.5,213.62 66,213.61 66.5,213.6 67,213.59 67.5,213.58 68,213.57 68.5,213.56 69,213.54 69.5,213.53 70,213.51 70.5,213.49 71,213.47 71.5,213.45 72,213.42 72.5,213.4 73,213.37 73.5,213.34 74,213.3 74.5,213.27 75,213.23 75.5,213.19 76,213.14 76.5,213.1 77,213.04 77.5,212.99 78,212.93 78.5,212.87 79,212.8 79.5,212.73 80,212.65 80.5,212.57 81,212.49 81.5,212.39 82,212.3 82.5,212.2 83,212.09 83.5,211.97 84,211.85 84.5,211.72 85,211.59 85.5,211.45 86,211.3 86.5,211.15 87,210.98 87.5,210.81 88,210.64 88.5,210.45 89,210.26 89.5,210.06 90,209.85 90.5,209.64 91,209.41 91.5,209.18 92,208.94 92.5,208.7 93,208.44 93.5,208.18 94,207.91 94.5,207.63 95,207.35 95.5,207.06 96,206.77 96.5,206.47 97,206.16 97.5,205.85 98,205.53 98.5,205.21 99,204.88 99.5,204.55 100,204.22 100.5,203.89 101,203.56 101.5,203.22 102,202.88 102.5,202.55 103,202.21 103.5,201.88 104,201.55 104.5,201.23 105,200.9 105.5,200.58 106,200.27 106.5,199.97 107,199.67 107.5,199.38 108,199.09 108.5,198.82 109,198.56 109.5,198.31 110,198.06 110.5,197.84 111,197.62 111.5,197.42 112,197.23 112.5,197.05 113,196.9 113.5,196.75 114,196.62 114.5,196.51 115,196.42 115.5,196.34 116,196.28 116.5,196.24 117,196.21 117.5,196.2 118,196.21 118.5,196.24 119,196.28 119.5,196.34 120,196.42 120.5,196.51 121,196.62 121.5,196.75 122,196.9 122.5,197.05 123,197.23 123.5,197.42 124,197.62 124.5,197.84 125,198.06 125.5,198.31 126,198.56 126.5,198.82 127,199.09 127.5,199.38 128,199.67 128.5,199.97 129,200.27 129.5,200.58 130,200.9 130.5,201.23 131,201.55 131.5,201.88 132,202.21 132.5,202.55 133,202.88 133.5,203.22 134,203.56 134.5,203.89 135,204.22 135.5,204.55 136,204.88 136.5,205.21 137,205.53 137.5,205.85 138,206.16 138.5,206.47 139,206.77 139.5,207.06 140,207.35 140.5,207.63 141,207.91 141.5,208.18 142,208.44 142.5,208.7 143,208.94 143.5,209.18 144,209.41 144.5,209.64 145,209.85 145.5,210.06 146,210.26 146.5,210.45 147,210.64 147.5,210.81 148,210.98 148.5,211.15 149,211.3 149.5,211.45 150,211.59 150.5,211.72 151,211.85 151.5,211.97 152,212.09 152.5,212.2 153,212.3 153.5,212.39 154,212.49 154.5,212.57 155,212.65 155.5,212.73 156,212.8 156.5,212.87 157,212.93 157.5,212.99 158,213.04 158.5,213.1 159,213.14 159.5,213.19 160,213.23 160.5,213.27 161,213.3 161.5,213.34 162,213.37 162.5,213.4 163,213.42 163.5,213.45 164,213.47 164.5,213.49 165,213.51 165.5,213.53 166,213.54 166.5,213.56 167,213.57 167.5,213.58 168,213.59 168.5,213.6 169,213.61 169.5,213.62 170,213.63 170.5,213.64 171,213.64 171.5,213.65 172,213.65 172.5,213.66 173,213.66 173.5,213.67 174,213.67 174.5,213.67 175,213.68 175.5,213.68 176,213.68 176.5,213.68 177,213.69 177.5,213.69 178,213.69 178.5,213.69 179,213.69 179.5,213.69 180,213.69 180.5,213.69 181,213.69 181.5,213.7 182,213.7 182.5,213.7 183,213.7 183.5,213.7 184,213.7 184.5,213.7 185,213.7 185.5,213.7 186,213.7 186.5,213.7 187,213.7 187.5,213.7 188,213.7 188.5,213.7 189,213.7 189.5,213.7 190,213.7 190.5,213.7 191,213.7 191.5,213.7 192,213.7 192.5,213.7 193,213.7 193.5,213.7 194,213.7 194.5,213.7 195,213.7 195.5,213.7 196,213.7 196.5,213.7 197,213.7 197.5,213.7 198,213.7 198.5,213.7 199,213.7 199.5,213.7 200,213.7 200.5,213.7 201,213.7 201.5,213.7 202,213.7 202.5,213.7 203,213.7 203.5,213.7 204,213.7 204.5,213.7 205,213.7 205.5,213.7 206,213.7 206.5,213.7 207,213.7 207.5,213.7 208,213.7 208.5,213.7 209,213.7 209.5,213.7 210,213.7 210.5,213.7 211,213.7 211.5,213.7 212,213.7 212.5,213.7 213,213.7 213.5,213.7 214,213.7 214.5,213.7 215,213.7 215.5,213.7 216,213.7 216.5,213.7 217,213.7 217.5,213.7 218,213.7 218.5,213.7 219,213.7 219.5,213.7 220,213.7 220.5,213.7 221,213.7 221.5,213.7 222,213.7 222.5,213.7 223,213.7 223.5,213.7 224,213.7 224.5,213.7 225,213.7 225.5,213.7 226,213.7 226.5,213.7 227,213.7 227.5,213.7 228,213.7 228.5,213.7 229,213.7 229.5,213.7 230,213.7 230.5,213.7 231,213.7 231.5,213.7 232,213.7 232.5,213.7 233,213.7 233.5,213.7 234,213.7 234.5,213.7 235,213.7 235.5,213.7 236,213.7 236.5,213.7 237,213.7 237.5,213.7 238,213.7 238.5,213.7 239,213.7 239.5,213.7 240,213.7 240.5,213.7 241,213.7 241.5,213.7 242,213.7 242.5,213.7 243,213.7 243.5,213.7 244,213.7 244.5,213.7 245,213.7 245.5,213.7 246,213.7 246.5,213.7 247,213.7 247.5,213.7 248,213.7 248.5,213.7 249,213.7 249.5,213.7 250,213.7 250.5,213.7 251,213.7 251.5,213.7 252,213.7 252.5,213.7 253,213.7 253.5,213.7 254,213.7 254.5,213.7 255,213.7 255.5,213.7 256,213.7 256.5,213.7 257,213.7 257.5,213.7 258,213.7 258.5,213.7 259,213.7 259.5,213.7 260,213.7 260.5,213.7 261,213.7 261.5,213.7 262,213.7 262.5,213.7 263,213.7 263.5,213.7 264,213.7 264.5,213.7 265,213.7 265.5,213.7 266,213.7 266.5,213.7 267,213.7 267.5,213.7 268,213.7 268.5,213.7 269,213.7 269.5,213.7 270,213.7 270.5,213.7 271,213.7 271.5,213.7 272,213.7 272.5,213.7 273,213.7 273.5,213.7 274,213.7 274.5,213.7 275,213.7 275.5,213.7 276,213.7 276.5,213.7 277,213.7 277.5,213.7 278,213.7 278.5,213.7 279,213.7 279.5,213.7 280,213.7 280.5,213.7 281,213.7 281.5,213.7 282,213.7 282.5,213.7 283,213.7 283.5,213.7 284,213.7 284.5,213.7 285,213.7 285.5,213.7 286,213.7 286.5,213.7 287,213.7 287.5,213.7 288,213.7 288.5,213.7 289,213.7 289.5,213.7 290,213.7 290.5,213.7 291,213.7 291.5,213.7 292,213.7 292.5,213.7 293,213.7 293.5,213.7 294,213.7 294.5,213.7 295,213.7 295.5,213.7 296,213.7 296.5,213.7 297,213.7 297.5,213.7 298,213.7 298.5,213.7 299,213.7 299.5,213.7 300,213.7 300.5,213.7 301,213.7 301.5,213.7 302,213.7 302.5,213.7 303,213.7 303.5,213.7 304,213.7 304.5,213.7 305,213.7 305.5,213.7 306,213.7 306.5,213.7 307,213.7 307.5,213.7 308,213.7 308.5,213.7 309,213.7 309.5,213.7 310,213.7 310.5,213.7 311,213.7"/>
<polyline fill="none" stroke="#f2e800" stroke-width="1.6" stroke-linejoin="round" points="26.5,213.34 27,213.33 27.5,213.32 28,213.31 28.5,213.3 29,213.29 29.5,213.28 30,213.26 30.5,213.25 31,213.24 31.5,213.22 32,213.21 32.5,213.19 33,213.18 33.5,213.16 34,213.15 34.5,213.13 35,213.12 35.5,213.1 36,213.09 36.5,213.07 37,213.05 37.5,213.04 38,213.02 38.5,213.01 39,212.99 39.5,212.97 40,212.96 40.5,212.94 41,212.92 41.5,212.91 42,212.89 42.5,212.88 43,212.86 43.5,212.84 44,212.83 44.5,212.81 45,212.79 45.5,212.78 46,212.76 46.5,212.74 47,212.73 47.5,212.71 48,212.69 48.5,212.68 49,212.66 49.5,212.65 50,212.63 50.5,212.61 51,212.6 51.5,212.58 52,212.56 52.5,212.55 53,212.53 53.5,212.51 54,212.5 54.5,212.48 55,212.47 55.5,212.45 56,212.44 56.5,212.42 57,212.41 57.5,212.39 58,212.38 58.5,212.36 59,212.35 59.5,212.34 60,212.32 60.5,212.31 61,212.3 61.5,212.28 62,212.27 62.5,212.26 63,212.24 63.5,212.23 64,212.22 64.5,212.2 65,212.19 65.5,212.18 66,212.16 66.5,212.15 67,212.13 67.5,212.11 68,212.09 68.5,212.08 69,212.06 69.5,212.03 70,212.01 70.5,211.99 71,211.96 71.5,211.93 72,211.91 72.5,211.87 73,211.84 73.5,211.8 74,211.77 74.5,211.73 75,211.68 75.5,211.64 76,211.59 76.5,211.53 77,211.48 77.5,211.42 78,211.35 78.5,211.28 79,211.21 79.5,211.13 80,211.05 80.5,210.97 81,210.87 81.5,210.78 82,210.68 82.5,210.57 83,210.45 83.5,210.33 84,210.21 84.5,210.07 85,209.93 85.5,209.79 86,209.64 86.5,209.47 87,209.31 87.5,209.13 88,208.95 88.5,208.76 89,208.56 89.5,208.35 90,208.14 90.5,207.92 91,207.69 91.5,207.45 92,207.21 92.5,206.96 93,206.7 93.5,206.43 94,206.16 94.5,205.88 95,205.59 95.5,205.3 96,205 96.5,204.69 97,204.38 97.5,204.07 98,203.75 98.5,203.43 99,203.1 99.5,202.77 100,202.44 100.5,202.11 101,201.77 101.5,201.44 102,201.11 102.5,200.77 103,200.44 103.5,200.11 104,199.78 104.5,199.46 105,199.14 105.5,198.82 106,198.52 106.5,198.21 107,197.91 107.5,197.63 108,197.34 108.5,197.07 109,196.81 109.5,196.55 110,196.31 110.5,196.07 111,195.85 111.5,195.64 112,195.44 112.5,195.25 113,195.07 113.5,194.9 114,194.75 114.5,194.61 115,194.47 115.5,194.35 116,194.25 116.5,194.15 117,194.06 117.5,193.99 118,193.92 118.5,193.86 119,193.82 119.5,193.78 120,193.75 120.5,193.73 121,193.71 121.5,193.71 122,193.71 122.5,193.71 123,193.72 123.5,193.74 124,193.76 124.5,193.78 125,193.8 125.5,193.83 126,193.85 126.5,193.87 127,193.89 127.5,193.91 128,193.92 128.5,193.93 129,193.93 129.5,193.92 130,193.91 130.5,193.88 131,193.85 131.5,193.8 132,193.74 132.5,193.67 133,193.59 133.5,193.49 134,193.37 134.5,193.24 135,193.1 135.5,192.93 136,192.76 136.5,192.56 137,192.35 137.5,192.13 138,191.89 138.5,191.63 139,191.37 139.5,191.09 140,190.79 140.5,190.49 141,190.17 141.5,189.85 142,189.52 142.5,189.18 143,188.84 143.5,188.5 144,188.16 144.5,187.81 145,187.47 145.5,187.13 146,186.79 146.5,186.47 147,186.15 147.5,185.84 148,185.54 148.5,185.26 149,184.99 149.5,184.73 150,184.49 150.5,184.27 151,184.06 151.5,183.87 152,183.7 152.5,183.55 153,183.42 153.5,183.3 154,183.2 154.5,183.12 155,183.05 155.5,182.99 156,182.95 156.5,182.93 157,182.91 157.5,182.9 158,182.89 158.5,182.89 159,182.89 159.5,182.9 160,182.9 160.5,182.89 161,182.88 161.5,182.86 162,182.83 162.5,182.79 163,182.73 163.5,182.65 164,182.56 164.5,182.44 165,182.3 165.5,182.14 166,181.95 166.5,181.74 167,181.51 167.5,181.25 168,180.96 168.5,180.64 169,180.31 169.5,179.94 170,179.55 170.5,179.14 171,178.71 171.5,178.26 172,177.79 172.5,177.31 173,176.81 173.5,176.3 174,175.78 174.5,175.25 175,174.72 175.5,174.18 176,173.64 176.5,173.11 177,172.58 177.5,172.05 178,171.53 178.5,171.02 179,170.52 179.5,170.03 180,169.54 180.5,169.07 181,168.61 181.5,168.16 182,167.72 182.5,167.29 183,166.86 183.5,166.43 184,166.01 184.5,165.59 185,165.16 185.5,164.72 186,164.28 186.5,163.82 187,163.35 187.5,162.85 188,162.34 188.5,161.79 189,161.22 189.5,160.61 190,159.97 190.5,159.3 191,158.58 191.5,157.82 192,157.03 192.5,156.19 193,155.31 193.5,154.39 194,153.43 194.5,152.43 195,151.4 195.5,150.34 196,149.24 196.5,148.11 197,146.97 197.5,145.8 198,144.61 198.5,143.42 199,142.21 199.5,140.99 200,139.77 200.5,138.55 201,137.33 201.5,136.11 202,134.9 202.5,133.69 203,132.48 203.5,131.28 204,130.07 204.5,128.87 205,127.66 205.5,126.44 206,125.21 206.5,123.95 207,122.68 207.5,121.38 208,120.05 208.5,118.67 209,117.25 209.5,115.78 210,114.26 210.5,112.67 211,111.02 211.5,109.3 212,107.5 212.5,105.64 213,103.69 213.5,101.67 214,99.56 214.5,97.38 215,95.13 215.5,92.8 216,90.39 216.5,87.93 217,85.4 217.5,82.81 218,80.18 218.5,77.51 219,74.8 219.5,72.07 220,69.32 220.5,66.56 221,63.81 221.5,61.07 222,58.35 222.5,55.67 223,53.03 223.5,50.45 224,47.93 224.5,45.48 225,43.13 225.5,40.87 226,38.71 226.5,36.67 227,34.75 227.5,32.96 228,31.31 228.5,29.8 229,28.45 229.5,27.26 230,26.23 230.5,25.37 231,24.68 231.5,24.17 232,23.84 232.5,23.69 233,23.72 233.5,23.95 234,24.39 234.5,25.03 235,25.88 235.5,26.92 236,28.16 236.5,29.59 237,31.19 237.5,32.96 238,34.9 238.5,36.98 239,39.21 239.5,41.57 240,44.05 240.5,46.64 241,49.34 241.5,52.12 242,54.98 242.5,57.92 243,60.92 243.5,63.98 244,67.08 244.5,70.21 245,73.38 245.5,76.58 246,79.79 246.5,83.01 247,86.23 247.5,89.46 248,92.68 248.5,95.89 249,99.09 249.5,102.26 250,105.42 250.5,108.54 251,111.64 251.5,114.7 252,117.73 252.5,120.71 253,123.66 253.5,126.56 254,129.41 254.5,132.21 255,134.97 255.5,137.67 256,140.32 256.5,142.91 257,145.44 257.5,147.92 258,150.33 258.5,152.69 259,154.99 259.5,157.22 260,159.4 260.5,161.51 261,163.56 261.5,165.55 262,167.48 262.5,169.35 263,171.16 263.5,172.9 264,174.59 264.5,176.22 265,177.78 265.5,179.3 266,180.75 266.5,182.15 267,183.5 267.5,184.79 268,186.03 268.5,187.22 269,188.36 269.5,189.45 270,190.5 270.5,191.49 271,192.45 271.5,193.36 272,194.23 272.5,195.06 273,195.85 273.5,196.61 274,197.32 274.5,198.01 275,198.66 275.5,199.28 276,199.86 276.5,200.42 277,200.95 277.5,201.45 278,201.93 278.5,202.38 279,202.81 279.5,203.22 280,203.6 280.5,203.97 281,204.32 281.5,204.64 282,204.95 282.5,205.25 283,205.53 283.5,205.79 284,206.04 284.5,206.28 285,206.5 285.5,206.72 286,206.92 286.5,207.11 287,207.29 287.5,207.47 288,207.63 288.5,207.79 289,207.94 289.5,208.08 290,208.21 290.5,208.34 291,208.46 291.5,208.58 292,208.69 292.5,208.8 293,208.9 293.5,208.99 294,209.09 294.5,209.18 295,209.26 295.5,209.35 296,209.43 296.5,209.5 297,209.58 297.5,209.65 298,209.72 298.5,209.78 299,209.85 299.5,209.91 300,209.97 300.5,210.03 301,210.08 301.5,210.14 302,210.19 302.5,210.24 303,210.29 303.5,210.34 304,210.39 304.5,210.43 305,210.48 305.5,210.52 306,210.57 306.5,210.61 307,210.65 307.5,210.69 308,210.73 308.5,210.77 309,210.81 309.5,210.84 310,210.88 310.5,210.91 311,210.95"/>
<g stroke="#000" stroke-width="1.5"><line x1="25.5" y1="213.8" x2="25.5" y2="216.8"/><line x1="45.26" y1="213.8" x2="45.26" y2="218.6"/><line x1="65.01" y1="213.8" x2="65.01" y2="216.8"/><line x1="84.77" y1="213.8" x2="84.77" y2="218.6"/><line x1="104.53" y1="213.8" x2="104.53" y2="216.8"/><line x1="124.29" y1="213.8" x2="124.29" y2="218.6"/><line x1="144.04" y1="213.8" x2="144.04" y2="216.8"/><line x1="163.8" y1="213.8" x2="163.8" y2="218.6"/><line x1="183.56" y1="213.8" x2="183.56" y2="216.8"/><line x1="203.31" y1="213.8" x2="203.31" y2="218.6"/><line x1="223.07" y1="213.8" x2="223.07" y2="216.8"/><line x1="242.83" y1="213.8" x2="242.83" y2="218.6"/><line x1="262.58" y1="213.8" x2="262.58" y2="216.8"/><line x1="282.34" y1="213.8" x2="282.34" y2="218.6"/><line x1="302.1" y1="213.8" x2="302.1" y2="216.8"/><line x1="321.86" y1="213.8" x2="321.86" y2="218.6"/></g>
<g font-size="12" text-anchor="middle"><text x="45.26" y="236">294</text><text x="84.77" y="236">292</text><text x="124.29" y="236">290</text><text x="163.8" y="236">288</text><text x="203.31" y="236">286</text><text x="242.83" y="236">284</text><text x="282.34" y="236">282</text><text x="321.86" y="236">280</text></g>
<text x="173.68" y="257.5" font-size="13.8" text-anchor="middle">Binding energy (eV)</text>
<text transform="translate(12,108) rotate(-90)" font-size="13.5" text-anchor="middle">Intensity (a.u.)</text>
<text x="2.6" y="13.0" font-size="18" font-weight="bold">a</text>
<rect x="40" y="8.5" width="5" height="5" fill="#000"/><text x="62" y="16.1" font-size="13.8">Raw data</text><line x1="26.5" y1="28.2" x2="58" y2="28.2" stroke="#c84850" stroke-width="1.3"/><text x="62" y="33.3" font-size="13.8">C-C</text><line x1="26.5" y1="44.4" x2="58" y2="44.4" stroke="#50c850" stroke-width="1.3"/><text x="62" y="49.5" font-size="13.8">C=O</text><line x1="26.5" y1="61.3" x2="58" y2="61.3" stroke="#4848d0" stroke-width="1.3"/><text x="62" y="66.4" font-size="13.8">C-O</text><line x1="26.5" y1="77.8" x2="58" y2="77.8" stroke="#70e0e0" stroke-width="1.3"/><text x="62" y="82.9" font-size="13.8">O-C=O</text><line x1="26.5" y1="97.2" x2="58" y2="97.2" stroke="#e050e0" stroke-width="1.3"/><text x="62" y="102.3" font-size="13.8"><tspan font-family="Liberation Serif" font-size="15" stroke="#000" stroke-width="0.35">π–π</tspan><tspan font-size="9" dy="-5">*</tspan></text><line x1="26.5" y1="113.7" x2="58" y2="113.7" stroke="#f0ec60" stroke-width="1.3"/><text x="62" y="118.8" font-size="13.8">cumulative</text>
<rect x="375.5" y="1.5" width="296.36" height="212.3" fill="none" stroke="#000" stroke-width="2"/>
<g fill="#000"><rect x="373.4" y="207.88" width="5.2" height="5.2"/><rect x="375.4" y="208.05" width="5.2" height="5.2"/><rect x="377.4" y="207.43" width="5.2" height="5.2"/><rect x="379.4" y="210.17" width="5.2" height="5.2"/><rect x="381.4" y="208.74" width="5.2" height="5.2"/><rect x="383.4" y="209.97" width="5.2" height="5.2"/><rect x="385.4" y="209.01" width="5.2" height="5.2"/><rect x="387.4" y="208.3" width="5.2" height="5.2"/><rect x="389.4" y="208.69" width="5.2" height="5.2"/><rect x="391.4" y="208.44" width="5.2" height="5.2"/><rect x="393.4" y="209.02" width="5.2" height="5.2"/><rect x="395.4" y="208.56" width="5.2" height="5.2"/><rect x="397.4" y="208.57" width="5.2" height="5.2"/><rect x="399.4" y="207.31" width="5.2" height="5.2"/><rect x="401.4" y="207.78" width="5.2" height="5.2"/><rect x="403.4" y="210.26" width="5.2" height="5.2"/><rect x="405.4" y="207.46" width="5.2" height="5.2"/><rect x="407.4" y="206.72" width="5.2" height="5.2"/><rect x="409.4" y="207.89" width="5.2" height="5.2"/><rect x="411.4" y="208.66" width="5.2" height="5.2"/><rect x="413.4" y="204.97" width="5.2" height="5.2"/><rect x="415.4" y="205.86" width="5.2" height="5.2"/><rect x="417.4" y="204.82" width="5.2" height="5.2"/><rect x="419.4" y="202.75" width="5.2" height="5.2"/><rect x="421.4" y="204.79" width="5.2" height="5.2"/><rect x="423.4" y="203.05" width="5.2" height="5.2"/><rect x="425.4" y="202.36" width="5.2" height="5.2"/><rect x="427.4" y="200.63" width="5.2" height="5.2"/><rect x="429.4" y="201.44" width="5.2" height="5.2"/><rect x="431.4" y="199.71" width="5.2" height="5.2"/><rect x="433.4" y="199.82" width="5.2" height="5.2"/><rect x="435.4" y="198.34" width="5.2" height="5.2"/><rect x="437.4" y="197.99" width="5.2" height="5.2"/><rect x="439.4" y="200.95" width="5.2" height="5.2"/><rect x="441.4" y="198.55" width="5.2" height="5.2"/><rect x="443.4" y="199.43" width="5.2" height="5.2"/><rect x="445.4" y="199.01" width="5.2" height="5.2"/><rect x="447.4" y="198.4" width="5.2" height="5.2"/><rect x="449.4" y="198.11" width="5.2" height="5.2"/><rect x="451.4" y="199.19" width="5.2" height="5.2"/><rect x="453.4" y="197.56" width="5.2" height="5.2"/><rect x="455.4" y="197.13" width="5.2" height="5.2"/><rect x="457.4" y="197.07" width="5.2" height="5.2"/><rect x="459.4" y="198.4" width="5.2" height="5.2"/><rect x="461.4" y="197.52" width="5.2" height="5.2"/><rect x="463.4" y="196.8" width="5.2" height="5.2"/><rect x="465.4" y="195.17" width="5.2" height="5.2"/><rect x="467.4" y="193.68" width="5.2" height="5.2"/><rect x="469.4" y="196.54" width="5.2" height="5.2"/><rect x="471.4" y="195.7" width="5.2" height="5.2"/><rect x="473.4" y="193.43" width="5.2" height="5.2"/><rect x="475.4" y="193.84" width="5.2" height="5.2"/><rect x="477.4" y="193.85" width="5.2" height="5.2"/><rect x="479.4" y="193.81" width="5.2" height="5.2"/><rect x="481.4" y="194.05" width="5.2" height="5.2"/><rect x="483.4" y="192.19" width="5.2" height="5.2"/><rect x="485.4" y="194.71" width="5.2" height="5.2"/><rect x="487.4" y="190.7" width="5.2" height="5.2"/><rect x="489.4" y="193.63" width="5.2" height="5.2"/><rect x="491.4" y="193.13" width="5.2" height="5.2"/><rect x="493.4" y="193.62" width="5.2" height="5.2"/><rect x="495.4" y="194.85" width="5.2" height="5.2"/><rect x="497.4" y="194.02" width="5.2" height="5.2"/><rect x="499.4" y="190.52" width="5.2" height="5.2"/><rect x="501.4" y="189.55" width="5.2" height="5.2"/><rect x="503.4" y="192.4" width="5.2" height="5.2"/><rect x="505.4" y="189.06" width="5.2" height="5.2"/><rect x="507.4" y="189.35" width="5.2" height="5.2"/><rect x="509.4" y="189.29" width="5.2" height="5.2"/><rect x="511.4" y="184.81" width="5.2" height="5.2"/><rect x="513.4" y="183.22" width="5.2" height="5.2"/><rect x="515.4" y="185.86" width="5.2" height="5.2"/><rect x="517.4" y="184.88" width="5.2" height="5.2"/><rect x="519.4" y="183.9" width="5.2" height="5.2"/><rect x="521.4" y="183.74" width="5.2" height="5.2"/><rect x="523.4" y="181.66" width="5.2" height="5.2"/><rect x="525.4" y="179.7" width="5.2" height="5.2"/><rect x="527.4" y="180.49" width="5.2" height="5.2"/><rect x="529.4" y="177.54" width="5.2" height="5.2"/><rect x="531.4" y="174.36" width="5.2" height="5.2"/><rect x="533.4" y="175.5" width="5.2" height="5.2"/><rect x="535.4" y="171.82" width="5.2" height="5.2"/><rect x="537.4" y="169.59" width="5.2" height="5.2"/><rect x="539.4" y="164.11" width="5.2" height="5.2"/><rect x="541.4" y="161.87" width="5.2" height="5.2"/><rect x="543.4" y="158.48" width="5.2" height="5.2"/><rect x="545.4" y="155.73" width="5.2" height="5.2"/><rect x="547.4" y="154.38" width="5.2" height="5.2"/><rect x="549.4" y="148.45" width="5.2" height="5.2"/><rect x="551.4" y="145.77" width="5.2" height="5.2"/><rect x="553.4" y="139.76" width="5.2" height="5.2"/><rect x="555.4" y="136.21" width="5.2" height="5.2"/><rect x="557.4" y="120.32" width="5.2" height="5.2"/><rect x="559.4" y="115.85" width="5.2" height="5.2"/><rect x="561.4" y="102.91" width="5.2" height="5.2"/><rect x="563.4" y="91.66" width="5.2" height="5.2"/><rect x="565.4" y="76.06" width="5.2" height="5.2"/><rect x="567.4" y="66.81" width="5.2" height="5.2"/><rect x="569.4" y="58.87" width="5.2" height="5.2"/><rect x="571.4" y="46.3" width="5.2" height="5.2"/><rect x="573.4" y="38.08" width="5.2" height="5.2"/><rect x="575.4" y="30.25" width="5.2" height="5.2"/><rect x="577.4" y="30.27" width="5.2" height="5.2"/><rect x="579.4" y="24.94" width="5.2" height="5.2"/><rect x="581.4" y="19.53" width="5.2" height="5.2"/><rect x="583.4" y="28.89" width="5.2" height="5.2"/><rect x="585.4" y="33.02" width="5.2" height="5.2"/><rect x="587.4" y="39.79" width="5.2" height="5.2"/><rect x="589.4" y="59.67" width="5.2" height="5.2"/><rect x="591.4" y="77.76" width="5.2" height="5.2"/><rect x="593.4" y="87.84" width="5.2" height="5.2"/><rect x="595.4" y="98.39" width="5.2" height="5.2"/><rect x="597.4" y="112.23" width="5.2" height="5.2"/><rect x="599.4" y="129.41" width="5.2" height="5.2"/><rect x="601.4" y="138.92" width="5.2" height="5.2"/><rect x="603.4" y="149.42" width="5.2" height="5.2"/><rect x="605.4" y="158.96" width="5.2" height="5.2"/><rect x="607.4" y="167.73" width="5.2" height="5.2"/><rect x="609.4" y="176.48" width="5.2" height="5.2"/><rect x="611.4" y="182.43" width="5.2" height="5.2"/><rect x="613.4" y="187.31" width="5.2" height="5.2"/><rect x="615.4" y="190.04" width="5.2" height="5.2"/><rect x="617.4" y="195.95" width="5.2" height="5.2"/><rect x="619.4" y="197.41" width="5.2" height="5.2"/><rect x="621.4" y="202.39" width="5.2" height="5.2"/><rect x="623.4" y="201.61" width="5.2" height="5.2"/><rect x="625.4" y="204.7" width="5.2" height="5.2"/><rect x="627.4" y="206.17" width="5.2" height="5.2"/><rect x="629.4" y="205.67" width="5.2" height="5.2"/><rect x="631.4" y="210.01" width="5.2" height="5.2"/><rect x="633.4" y="210.36" width="5.2" height="5.2"/><rect x="635.4" y="208.72" width="5.2" height="5.2"/><rect x="637.4" y="210.59" width="5.2" height="5.2"/><rect x="639.4" y="210.56" width="5.2" height="5.2"/></g>
<polyline fill="none" stroke="#d03030" stroke-width="1.3" stroke-linejoin="round" points="376.5,213.7 377,213.7 377.5,213.7 378,213.7 378.5,213.7 379,213.7 379.5,213.7 380,213.7 380.5,213.7 381,213.7 381.5,213.7 382,213.7 382.5,213.7 383,213.7 383.5,213.7 384,213.7 384.5,213.7 385,213.7 385.5,213.7 386,213.7 386.5,213.7 387,213.7 387.5,213.7 388,213.7 388.5,213.7 389,213.7 389.5,213.7 390,213.7 390.5,213.7 391,213.7 391.5,213.7 392,213.7 392.5,213.7 393,213.7 393.5,213.7 394,213.7 394.5,213.7 395,213.7 395.5,213.7 396,213.7 396.5,213.7 397,213.7 397.5,213.7 398,213.7 398.5,213.7 399,213.7 399.5,213.7 400,213.7 400.5,213.7 401,213.7 401.5,213.7 402,213.7 402.5,213.7 403,213.7 403.5,213.7 404,213.7 404.5,213.7 405,213.7 405.5,213.7 406,213.7 406.5,213.7 407,213.7 407.5,213.7 408,213.7 408.5,213.7 409,213.7 409.5,213.7 410,213.7 410.5,213.7 411,213.7 411.5,213.7 412,213.7 412.5,213.7 413,213.7 413.5,213.7 414,213.7 414.5,213.7 415,213.7 415.5,213.7 416,213.7 416.5,213.7 417,213.7 417.5,213.7 418,213.7 418.5,213.7 419,213.7 419.5,213.7 420,213.7 420.5,213.7 421,213.7 421.5,213.7 422,213.7 422.5,213.7 423,213.7 423.5,213.7 424,213.7 424.5,213.7 425,213.7 425.5,213.7 426,213.7 426.5,213.7 427,213.7 427.5,213.7 428,213.7 428.5,213.7 429,213.7 429.5,213.7 430,213.7 430.5,213.7 431,213.7 431.5,213.7 432,213.7 432.5,213.7 433,213.7 433.5,213.7 434,213.7 434.5,213.7 435,213.7 435.5,213.7 436,213.7 436.5,213.7 437,213.7 437.5,213.7 438,213.7 438.5,213.7 439,213.7 439.5,213.7 440,213.7 440.5,213.7 441,213.7 441.5,213.7 442,213.7 442.5,213.7 443,213.7 443.5,213.7 444,213.7 444.5,213.7 445,213.7 445.5,213.7 446,213.7 446.5,213.7 447,213.7 447.5,213.7 448,213.7 448.5,213.7 449,213.7 449.5,213.7 450,213.7 450.5,213.7 451,213.7 451.5,213.7 452,213.7 452.5,213.7 453,213.7 453.5,213.7 454,213.7 454.5,213.7 455,213.7 455.5,213.7 456,213.7 456.5,213.7 457,213.7 457.5,213.7 458,213.7 458.5,213.7 459,213.7 459.5,213.7 460,213.7 460.5,213.7 461,213.7 461.5,213.7 462,213.7 462.5,213.7 463,213.7 463.5,213.7 464,213.7 464.5,213.7 465,213.7 465.5,213.7 466,213.7 466.5,213.7 467,213.7 467.5,213.7 468,213.7 468.5,213.7 469,213.7 469.5,213.7 470,213.7 470.5,213.7 471,213.7 471.5,213.7 472,213.7 472.5,213.7 473,213.7 473.5,213.7 474,213.7 474.5,213.7 475,213.7 475.5,213.7 476,213.7 476.5,213.7 477,213.7 477.5,213.7 478,213.7 478.5,213.7 479,213.7 479.5,213.7 480,213.7 480.5,213.7 481,213.7 481.5,213.7 482,213.7 482.5,213.7 483,213.7 483.5,213.7 484,213.7 484.5,213.7 485,213.7 485.5,213.7 486,213.7 486.5,213.7 487,213.7 487.5,213.7 488,213.7 488.5,213.7 489,213.7 489.5,213.7 490,213.7 490.5,213.7 491,213.7 491.5,213.7 492,213.7 492.5,213.7 493,213.7 493.5,213.7 494,213.7 494.5,213.7 495,213.7 495.5,213.7 496,213.7 496.5,213.7 497,213.7 497.5,213.7 498,213.7 498.5,213.7 499,213.7 499.5,213.7 500,213.7 500.5,213.7 501,213.7 501.5,213.7 502,213.7 502.5,213.7 503,213.7 503.5,213.7 504,213.7 504.5,213.7 505,213.7 505.5,213.7 506,213.7 506.5,213.7 507,213.7 507.5,213.7 508,213.7 508.5,213.7 509,213.7 509.5,213.7 510,213.7 510.5,213.7 511,213.7 511.5,213.7 512,213.7 512.5,213.7 513,213.69 513.5,213.69 514,213.69 514.5,213.69 515,213.69 515.5,213.69 516,213.69 516.5,213.69 517,213.68 517.5,213.68 518,213.68 518.5,213.67 519,213.67 519.5,213.67 520,213.66 520.5,213.66 521,213.65 521.5,213.64 522,213.63 522.5,213.62 523,213.61 523.5,213.6 524,213.59 524.5,213.57 525,213.56 525.5,213.54 526,213.52 526.5,213.49 527,213.47 527.5,213.44 528,213.4 528.5,213.37 529,213.32 529.5,213.28 530,213.23 530.5,213.17 531,213.11 531.5,213.04 532,212.96 532.5,212.88 533,212.78 533.5,212.68 534,212.57 534.5,212.44 535,212.3 535.5,212.15 536,211.99 536.5,211.81 537,211.61 537.5,211.4 538,211.16 538.5,210.91 539,210.63 539.5,210.33 540,210 540.5,209.65 541,209.27 541.5,208.85 542,208.41 542.5,207.93 543,207.41 543.5,206.85 544,206.25 544.5,205.61 545,204.92 545.5,204.18 546,203.39 546.5,202.55 547,201.65 547.5,200.7 548,199.68 548.5,198.61 549,197.46 549.5,196.25 550,194.97 550.5,193.62 551,192.19 551.5,190.68 552,189.1 552.5,187.43 553,185.69 553.5,183.86 554,181.94 554.5,179.94 555,177.85 555.5,175.67 556,173.4 556.5,171.05 557,168.6 557.5,166.07 558,163.45 558.5,160.74 559,157.95 559.5,155.07 560,152.11 560.5,149.08 561,145.96 561.5,142.77 562,139.52 562.5,136.19 563,132.81 563.5,129.37 564,125.87 564.5,122.34 565,118.76 565.5,115.15 566,111.51 566.5,107.85 567,104.18 567.5,100.51 568,96.84 568.5,93.18 569,89.54 569.5,85.92 570,82.35 570.5,78.82 571,75.35 571.5,71.94 572,68.6 572.5,65.34 573,62.18 573.5,59.12 574,56.16 574.5,53.32 575,50.61 575.5,48.03 576,45.6 576.5,43.31 577,41.17 577.5,39.2 578,37.4 578.5,35.77 579,34.32 579.5,33.05 580,31.97 580.5,31.09 581,30.39 581.5,29.9 582,29.6 582.5,29.5 583,29.63 583.5,30.03 584,30.69 584.5,31.61 585,32.77 585.5,34.18 586,35.82 586.5,37.67 587,39.74 587.5,41.99 588,44.43 588.5,47.04 589,49.79 589.5,52.68 590,55.7 590.5,58.83 591,62.06 591.5,65.37 592,68.75 592.5,72.2 593,75.69 593.5,79.23 594,82.79 594.5,86.38 595,89.97 595.5,93.57 596,97.17 596.5,100.75 597,104.32 597.5,107.86 598,111.38 598.5,114.85 599,118.28 599.5,121.67 600,125.01 600.5,128.29 601,131.51 601.5,134.67 602,137.77 602.5,140.8 603,143.75 603.5,146.64 604,149.45 604.5,152.18 605,154.84 605.5,157.41 606,159.91 606.5,162.33 607,164.66 607.5,166.92 608,169.1 608.5,171.19 609,173.21 609.5,175.15 610,177.01 610.5,178.8 611,180.51 611.5,182.14 612,183.71 612.5,185.2 613,186.62 613.5,187.98 614,189.27 614.5,190.5 615,191.66 615.5,192.77 616,193.82 616.5,194.82 617,195.76 617.5,196.65 618,197.49 618.5,198.29 619,199.04 619.5,199.75 620,200.41 620.5,201.04 621,201.63 621.5,202.19 622,202.71 622.5,203.2 623,203.67 623.5,204.1 624,204.51 624.5,204.89 625,205.25 625.5,205.59 626,205.9 626.5,206.2 627,206.48 627.5,206.74 628,206.99 628.5,207.22 629,207.44 629.5,207.64 630,207.83 630.5,208.01 631,208.18 631.5,208.34 632,208.5 632.5,208.64 633,208.77 633.5,208.9 634,209.02 634.5,209.14 635,209.25 635.5,209.35 636,209.45 636.5,209.54 637,209.63 637.5,209.72 638,209.8 638.5,209.88 639,209.95 639.5,210.03 640,210.1 640.5,210.16 641,210.23 641.5,210.29 642,210.35 642.5,210.41 643,210.46 643.5,210.52 644,210.57"/>
<polyline fill="none" stroke="#30c830" stroke-width="1.3" stroke-linejoin="round" points="376.5,213.7 377,213.7 377.5,213.7 378,213.7 378.5,213.7 379,213.7 379.5,213.7 380,213.7 380.5,213.7 381,213.7 381.5,213.7 382,213.7 382.5,213.7 383,213.7 383.5,213.7 384,213.7 384.5,213.7 385,213.7 385.5,213.7 386,213.7 386.5,213.7 387,213.7 387.5,213.7 388,213.7 388.5,213.7 389,213.7 389.5,213.7 390,213.7 390.5,213.7 391,213.7 391.5,213.7 392,213.7 392.5,213.7 393,213.7 393.5,213.7 394,213.7 394.5,213.7 395,213.7 395.5,213.7 396,213.7 396.5,213.7 397,213.7 397.5,213.7 398,213.7 398.5,213.7 399,213.7 399.5,213.7 400,213.7 400.5,213.7 401,213.7 401.5,213.7 402,213.7 402.5,213.7 403,213.7 403.5,213.7 404,213.7 404.5,213.7 405,213.7 405.5,213.7 406,213.7 406.5,213.7 407,213.7 407.5,213.7 408,213.7 408.5,213.7 409,213.7 409.5,213.7 410,213.7 410.5,213.7 411,213.7 411.5,213.7 412,213.7 412.5,213.7 413,213.7 413.5,213.7 414,213.7 414.5,213.7 415,213.7 415.5,213.7 416,213.7 416.5,213.7 417,213.7 417.5,213.7 418,213.7 418.5,213.7 419,213.7 419.5,213.7 420,213.7 420.5,213.7 421,213.7 421.5,213.7 422,213.7 422.5,213.7 423,213.7 423.5,213.7 424,213.7 424.5,213.7 425,213.7 425.5,213.7 426,213.7 426.5,213.7 427,213.7 427.5,213.7 428,213.7 428.5,213.7 429,213.7 429.5,213.7 430,213.7 430.5,213.7 431,213.7 431.5,213.7 432,213.7 432.5,213.7 433,213.7 433.5,213.7 434,213.7 434.5,213.7 435,213.7 435.5,213.7 436,213.7 436.5,213.7 437,213.7 437.5,213.7 438,213.7 438.5,213.7 439,213.7 439.5,213.7 440,213.7 440.5,213.7 441,213.7 441.5,213.7 442,213.7 442.5,213.7 443,213.7 443.5,213.7 444,213.7 444.5,213.7 445,213.7 445.5,213.7 446,213.7 446.5,213.7 447,213.7 447.5,213.7 448,213.7 448.5,213.7 449,213.7 449.5,213.7 450,213.7 450.5,213.7 451,213.7 451.5,213.7 452,213.7 452.5,213.7 453,213.7 453.5,213.7 454,213.7 454.5,213.7 455,213.7 455.5,213.7 456,213.7 456.5,213.7 457,213.7 457.5,213.7 458,213.7 458.5,213.7 459,213.7 459.5,213.7 460,213.7 460.5,213.7 461,213.7 461.5,213.7 462,213.7 462.5,213.7 463,213.7 463.5,213.7 464,213.7 464.5,213.7 465,213.7 465.5,213.7 466,213.7 466.5,213.7 467,213.7 467.5,213.7 468,213.7 468.5,213.7 469,213.7 469.5,213.7 470,213.7 470.5,213.7 471,213.7 471.5,213.7 472,213.7 472.5,213.7 473,213.7 473.5,213.7 474,213.7 474.5,213.7 475,213.7 475.5,213.7 476,213.7 476.5,213.7 477,213.7 477.5,213.7 478,213.7 478.5,213.7 479,213.7 479.5,213.7 480,213.7 480.5,213.7 481,213.7 481.5,213.7 482,213.7 482.5,213.7 483,213.7 483.5,213.7 484,213.7 484.5,213.7 485,213.7 485.5,213.7 486,213.7 486.5,213.7 487,213.7 487.5,213.7 488,213.7 488.5,213.7 489,213.7 489.5,213.7 490,213.7 490.5,213.7 491,213.7 491.5,213.7 492,213.7 492.5,213.7 493,213.7 493.5,213.7 494,213.7 494.5,213.7 495,213.7 495.5,213.69 496,213.69 496.5,213.69 497,213.69 497.5,213.69 498,213.69 498.5,213.69 499,213.68 499.5,213.68 500,213.68 500.5,213.67 501,213.67 501.5,213.66 502,213.66 502.5,213.65 503,213.64 503.5,213.63 504,213.62 504.5,213.61 505,213.6 505.5,213.58 506,213.57 506.5,213.55 507,213.53 507.5,213.5 508,213.48 508.5,213.45 509,213.41 509.5,213.38 510,213.34 510.5,213.29 511,213.24 511.5,213.18 512,213.12 512.5,213.05 513,212.97 513.5,212.88 514,212.79 514.5,212.69 515,212.58 515.5,212.46 516,212.32 516.5,212.18 517,212.02 517.5,211.85 518,211.67 518.5,211.47 519,211.25 519.5,211.02 520,210.77 520.5,210.51 521,210.23 521.5,209.92 522,209.6 522.5,209.26 523,208.9 523.5,208.51 524,208.11 524.5,207.68 525,207.23 525.5,206.76 526,206.27 526.5,205.75 527,205.22 527.5,204.66 528,204.08 528.5,203.49 529,202.87 529.5,202.23 530,201.58 530.5,200.91 531,200.23 531.5,199.53 532,198.83 532.5,198.11 533,197.38 533.5,196.65 534,195.92 534.5,195.18 535,194.45 535.5,193.72 536,193 536.5,192.29 537,191.59 537.5,190.9 538,190.23 538.5,189.58 539,188.96 539.5,188.36 540,187.78 540.5,187.24 541,186.74 541.5,186.26 542,185.83 542.5,185.43 543,185.08 543.5,184.77 544,184.51 544.5,184.29 545,184.12 545.5,184 546,183.92 546.5,183.9 547,183.92 547.5,184 548,184.12 548.5,184.29 549,184.51 549.5,184.77 550,185.08 550.5,185.43 551,185.83 551.5,186.26 552,186.74 552.5,187.24 553,187.78 553.5,188.36 554,188.96 554.5,189.58 555,190.23 555.5,190.9 556,191.59 556.5,192.29 557,193 557.5,193.72 558,194.45 558.5,195.18 559,195.92 559.5,196.65 560,197.38 560.5,198.11 561,198.83 561.5,199.53 562,200.23 562.5,200.91 563,201.58 563.5,202.23 564,202.87 564.5,203.49 565,204.08 565.5,204.66 566,205.22 566.5,205.75 567,206.27 567.5,206.76 568,207.23 568.5,207.68 569,208.11 569.5,208.51 570,208.9 570.5,209.26 571,209.6 571.5,209.92 572,210.23 572.5,210.51 573,210.77 573.5,211.02 574,211.25 574.5,211.47 575,211.67 575.5,211.85 576,212.02 576.5,212.18 577,212.32 577.5,212.46 578,212.58 578.5,212.69 579,212.79 579.5,212.88 580,212.97 580.5,213.05 581,213.12 581.5,213.18 582,213.24 582.5,213.29 583,213.34 583.5,213.38 584,213.41 584.5,213.45 585,213.48 585.5,213.5 586,213.53 586.5,213.55 587,213.57 587.5,213.58 588,213.6 588.5,213.61 589,213.62 589.5,213.63 590,213.64 590.5,213.65 591,213.66 591.5,213.66 592,213.67 592.5,213.67 593,213.68 593.5,213.68 594,213.68 594.5,213.69 595,213.69 595.5,213.69 596,213.69 596.5,213.69 597,213.69 597.5,213.69 598,213.7 598.5,213.7 599,213.7 599.5,213.7 600,213.7 600.5,213.7 601,213.7 601.5,213.7 602,213.7 602.5,213.7 603,213.7 603.5,213.7 604,213.7 604.5,213.7 605,213.7 605.5,213.7 606,213.7 606.5,213.7 607,213.7 607.5,213.7 608,213.7 608.5,213.7 609,213.7 609.5,213.7 610,213.7 610.5,213.7 611,213.7 611.5,213.7 612,213.7 612.5,213.7 613,213.7 613.5,213.7 614,213.7 614.5,213.7 615,213.7 615.5,213.7 616,213.7 616.5,213.7 617,213.7 617.5,213.7 618,213.7 618.5,213.7 619,213.7 619.5,213.7 620,213.7 620.5,213.7 621,213.7 621.5,213.7 622,213.7 622.5,213.7 623,213.7 623.5,213.7 624,213.7 624.5,213.7 625,213.7 625.5,213.7 626,213.7 626.5,213.7 627,213.7 627.5,213.7 628,213.7 628.5,213.7 629,213.7 629.5,213.7 630,213.7 630.5,213.7 631,213.7 631.5,213.7 632,213.7 632.5,213.7 633,213.7 633.5,213.7 634,213.7 634.5,213.7 635,213.7 635.5,213.7 636,213.7 636.5,213.7 637,213.7 637.5,213.7 638,213.7 638.5,213.7 639,213.7 639.5,213.7 640,213.7 640.5,213.7 641,213.7 641.5,213.7 642,213.7 642.5,213.7 643,213.7 643.5,213.7 644,213.7"/>
<polyline fill="none" stroke="#202098" stroke-width="1.3" stroke-linejoin="round" points="376.5,213.7 377,213.7 377.5,213.7 378,213.7 378.5,213.7 379,213.7 379.5,213.7 380,213.7 380.5,213.7 381,213.7 381.5,213.7 382,213.7 382.5,213.7 383,213.7 383.5,213.7 384,213.7 384.5,213.7 385,213.7 385.5,213.7 386,213.7 386.5,213.7 387,213.7 387.5,213.7 388,213.7 388.5,213.7 389,213.7 389.5,213.7 390,213.7 390.5,213.7 391,213.7 391.5,213.7 392,213.7 392.5,213.7 393,213.7 393.5,213.7 394,213.7 394.5,213.7 395,213.7 395.5,213.7 396,213.7 396.5,213.7 397,213.7 397.5,213.7 398,213.7 398.5,213.7 399,213.7 399.5,213.7 400,213.7 400.5,213.7 401,213.7 401.5,213.7 402,213.7 402.5,213.7 403,213.7 403.5,213.7 404,213.7 404.5,213.7 405,213.7 405.5,213.7 406,213.7 406.5,213.7 407,213.7 407.5,213.7 408,213.7 408.5,213.7 409,213.7 409.5,213.7 410,213.7 410.5,213.7 411,213.7 411.5,213.7 412,213.7 412.5,213.7 413,213.7 413.5,213.7 414,213.7 414.5,213.7 415,213.7 415.5,213.7 416,213.7 416.5,213.7 417,213.7 417.5,213.7 418,213.7 418.5,213.7 419,213.7 419.5,213.7 420,213.7 420.5,213.7 421,213.7 421.5,213.7 422,213.7 422.5,213.7 423,213.7 423.5,213.7 424,213.7 424.5,213.7 425,213.7 425.5,213.7 426,213.7 426.5,213.7 427,213.7 427.5,213.7 428,213.7 428.5,213.7 429,213.7 429.5,213.7 430,213.7 430.5,213.7 431,213.7 431.5,213.7 432,213.7 432.5,213.7 433,213.7 433.5,213.7 434,213.7 434.5,213.7 435,213.7 435.5,213.7 436,213.7 436.5,213.7 437,213.7 437.5,213.7 438,213.7 438.5,213.7 439,213.7 439.5,213.7 440,213.7 440.5,213.7 441,213.7 441.5,213.7 442,213.7 442.5,213.7 443,213.7 443.5,213.7 444,213.7 444.5,213.7 445,213.7 445.5,213.7 446,213.7 446.5,213.7 447,213.7 447.5,213.7 448,213.7 448.5,213.7 449,213.7 449.5,213.7 450,213.7 450.5,213.7 451,213.7 451.5,213.7 452,213.7 452.5,213.7 453,213.7 453.5,213.7 454,213.7 454.5,213.7 455,213.7 455.5,213.7 456,213.7 456.5,213.7 457,213.7 457.5,213.7 458,213.7 458.5,213.7 459,213.7 459.5,213.7 460,213.7 460.5,213.7 461,213.7 461.5,213.7 462,213.7 462.5,213.7 463,213.7 463.5,213.7 464,213.7 464.5,213.7 465,213.7 465.5,213.7 466,213.7 466.5,213.7 467,213.7 467.5,213.7 468,213.7 468.5,213.7 469,213.7 469.5,213.7 470,213.7 470.5,213.7 471,213.7 471.5,213.7 472,213.7 472.5,213.7 473,213.7 473.5,213.7 474,213.7 474.5,213.7 475,213.7 475.5,213.7 476,213.7 476.5,213.7 477,213.7 477.5,213.7 478,213.7 478.5,213.69 479,213.69 479.5,213.69 480,213.69 480.5,213.69 481,213.69 481.5,213.68 482,213.68 482.5,213.68 483,213.67 483.5,213.67 484,213.66 484.5,213.65 485,213.65 485.5,213.64 486,213.63 486.5,213.62 487,213.6 487.5,213.59 488,213.57 488.5,213.55 489,213.53 489.5,213.5 490,213.47 490.5,213.44 491,213.4 491.5,213.36 492,213.31 492.5,213.26 493,213.2 493.5,213.14 494,213.07 494.5,212.99 495,212.91 495.5,212.81 496,212.71 496.5,212.6 497,212.48 497.5,212.34 498,212.2 498.5,212.04 499,211.88 499.5,211.7 500,211.5 500.5,211.3 501,211.08 501.5,210.84 502,210.6 502.5,210.34 503,210.06 503.5,209.77 504,209.47 504.5,209.15 505,208.83 505.5,208.49 506,208.14 506.5,207.77 507,207.4 507.5,207.02 508,206.64 508.5,206.24 509,205.85 509.5,205.45 510,205.05 510.5,204.65 511,204.25 511.5,203.86 512,203.47 512.5,203.09 513,202.73 513.5,202.37 514,202.03 514.5,201.71 515,201.4 515.5,201.12 516,200.86 516.5,200.62 517,200.4 517.5,200.21 518,200.05 518.5,199.92 519,199.82 519.5,199.75 520,199.71 520.5,199.7 521,199.72 521.5,199.78 522,199.86 522.5,199.97 523,200.11 523.5,200.29 524,200.48 524.5,200.71 525,200.96 525.5,201.23 526,201.52 526.5,201.84 527,202.17 527.5,202.51 528,202.87 528.5,203.24 529,203.63 529.5,204.02 530,204.41 530.5,204.81 531,205.21 531.5,205.61 532,206.01 532.5,206.4 533,206.79 533.5,207.18 534,207.55 534.5,207.92 535,208.28 535.5,208.62 536,208.96 536.5,209.28 537,209.59 537.5,209.89 538,210.17 538.5,210.44 539,210.7 539.5,210.94 540,211.17 540.5,211.38 541,211.58 541.5,211.77 542,211.94 542.5,212.11 543,212.26 543.5,212.4 544,212.53 544.5,212.64 545,212.75 545.5,212.85 546,212.94 546.5,213.02 547,213.1 547.5,213.17 548,213.23 548.5,213.28 549,213.33 549.5,213.38 550,213.42 550.5,213.45 551,213.48 551.5,213.51 552,213.54 552.5,213.56 553,213.58 553.5,213.59 554,213.61 554.5,213.62 555,213.63 555.5,213.64 556,213.65 556.5,213.66 557,213.66 557.5,213.67 558,213.67 558.5,213.68 559,213.68 559.5,213.68 560,213.69 560.5,213.69 561,213.69 561.5,213.69 562,213.69 562.5,213.69 563,213.7 563.5,213.7 564,213.7 564.5,213.7 565,213.7 565.5,213.7 566,213.7 566.5,213.7 567,213.7 567.5,213.7 568,213.7 568.5,213.7 569,213.7 569.5,213.7 570,213.7 570.5,213.7 571,213.7 571.5,213.7 572,213.7 572.5,213.7 573,213.7 573.5,213.7 574,213.7 574.5,213.7 575,213.7 575.5,213.7 576,213.7 576.5,213.7 577,213.7 577.5,213.7 578,213.7 578.5,213.7 579,213.7 579.5,213.7 580,213.7 580.5,213.7 581,213.7 581.5,213.7 582,213.7 582.5,213.7 583,213.7 583.5,213.7 584,213.7 584.5,213.7 585,213.7 585.5,213.7 586,213.7 586.5,213.7 587,213.7 587.5,213.7 588,213.7 588.5,213.7 589,213.7 589.5,213.7 590,213.7 590.5,213.7 591,213.7 591.5,213.7 592,213.7 592.5,213.7 593,213.7 593.5,213.7 594,213.7 594.5,213.7 595,213.7 595.5,213.7 596,213.7 596.5,213.7 597,213.7 597.5,213.7 598,213.7 598.5,213.7 599,213.7 599.5,213.7 600,213.7 600.5,213.7 601,213.7 601.5,213.7 602,213.7 602.5,213.7 603,213.7 603.5,213.7 604,213.7 604.5,213.7 605,213.7 605.5,213.7 606,213.7 606.5,213.7 607,213.7 607.5,213.7 608,213.7 608.5,213.7 609,213.7 609.5,213.7 610,213.7 610.5,213.7 611,213.7 611.5,213.7 612,213.7 612.5,213.7 613,213.7 613.5,213.7 614,213.7 614.5,213.7 615,213.7 615.5,213.7 616,213.7 616.5,213.7 617,213.7 617.5,213.7 618,213.7 618.5,213.7 619,213.7 619.5,213.7 620,213.7 620.5,213.7 621,213.7 621.5,213.7 622,213.7 622.5,213.7 623,213.7 623.5,213.7 624,213.7 624.5,213.7 625,213.7 625.5,213.7 626,213.7 626.5,213.7 627,213.7 627.5,213.7 628,213.7 628.5,213.7 629,213.7 629.5,213.7 630,213.7 630.5,213.7 631,213.7 631.5,213.7 632,213.7 632.5,213.7 633,213.7 633.5,213.7 634,213.7 634.5,213.7 635,213.7 635.5,213.7 636,213.7 636.5,213.7 637,213.7 637.5,213.7 638,213.7 638.5,213.7 639,213.7 639.5,213.7 640,213.7 640.5,213.7 641,213.7 641.5,213.7 642,213.7 642.5,213.7 643,213.7 643.5,213.7 644,213.7"/>
<polyline fill="none" stroke="#30d8e0" stroke-width="1.3" stroke-linejoin="round" points="376.5,213.7 377,213.7 377.5,213.7 378,213.7 378.5,213.7 379,213.7 379.5,213.7 380,213.7 380.5,213.7 381,213.7 381.5,213.7 382,213.7 382.5,213.7 383,213.7 383.5,213.7 384,213.7 384.5,213.7 385,213.7 385.5,213.7 386,213.7 386.5,213.7 387,213.7 387.5,213.7 388,213.7 388.5,213.7 389,213.7 389.5,213.7 390,213.7 390.5,213.7 391,213.7 391.5,213.7 392,213.7 392.5,213.7 393,213.7 393.5,213.7 394,213.7 394.5,213.7 395,213.7 395.5,213.7 396,213.7 396.5,213.7 397,213.7 397.5,213.7 398,213.7 398.5,213.7 399,213.7 399.5,213.7 400,213.7 400.5,213.7 401,213.7 401.5,213.7 402,213.7 402.5,213.7 403,213.7 403.5,213.7 404,213.7 404.5,213.7 405,213.7 405.5,213.7 406,213.7 406.5,213.7 407,213.7 407.5,213.7 408,213.7 408.5,213.7 409,213.7 409.5,213.7 410,213.7 410.5,213.7 411,213.7 411.5,213.7 412,213.7 412.5,213.7 413,213.7 413.5,213.7 414,213.7 414.5,213.7 415,213.7 415.5,213.7 416,213.7 416.5,213.69 417,213.69 417.5,213.69 418,213.69 418.5,213.69 419,213.69 419.5,213.69 420,213.69 420.5,213.69 421,213.68 421.5,213.68 422,213.68 422.5,213.68 423,213.68 423.5,213.67 424,213.67 424.5,213.67 425,213.66 425.5,213.66 426,213.65 426.5,213.65 427,213.64 427.5,213.64 428,213.63 428.5,213.62 429,213.62 429.5,213.61 430,213.6 430.5,213.59 431,213.57 431.5,213.56 432,213.55 432.5,213.53 433,213.52 433.5,213.5 434,213.48 434.5,213.46 435,213.44 435.5,213.42 436,213.39 436.5,213.36 437,213.33 437.5,213.3 438,213.26 438.5,213.23 439,213.19 439.5,213.14 440,213.1 440.5,213.05 441,213 441.5,212.94 442,212.88 442.5,212.82 443,212.75 443.5,212.68 444,212.6 444.5,212.52 445,212.44 445.5,212.35 446,212.25 446.5,212.15 447,212.05 447.5,211.93 448,211.82 448.5,211.69 449,211.56 449.5,211.43 450,211.29 450.5,211.14 451,210.98 451.5,210.82 452,210.65 452.5,210.47 453,210.29 453.5,210.1 454,209.9 454.5,209.7 455,209.49 455.5,209.27 456,209.05 456.5,208.82 457,208.58 457.5,208.33 458,208.08 458.5,207.82 459,207.56 459.5,207.29 460,207.01 460.5,206.73 461,206.44 461.5,206.15 462,205.86 462.5,205.56 463,205.26 463.5,204.95 464,204.64 464.5,204.33 465,204.02 465.5,203.7 466,203.39 466.5,203.07 467,202.76 467.5,202.45 468,202.14 468.5,201.83 469,201.52 469.5,201.22 470,200.93 470.5,200.63 471,200.35 471.5,200.07 472,199.8 472.5,199.53 473,199.28 473.5,199.03 474,198.79 474.5,198.56 475,198.35 475.5,198.14 476,197.95 476.5,197.77 477,197.6 477.5,197.44 478,197.3 478.5,197.17 479,197.06 479.5,196.96 480,196.88 480.5,196.81 481,196.76 481.5,196.73 482,196.71 482.5,196.7 483,196.71 483.5,196.74 484,196.78 484.5,196.84 485,196.91 485.5,197 486,197.1 486.5,197.22 487,197.36 487.5,197.5 488,197.66 488.5,197.84 489,198.02 489.5,198.22 490,198.43 490.5,198.65 491,198.88 491.5,199.13 492,199.38 492.5,199.64 493,199.9 493.5,200.18 494,200.46 494.5,200.75 495,201.04 495.5,201.34 496,201.65 496.5,201.95 497,202.26 497.5,202.57 498,202.89 498.5,203.2 499,203.51 499.5,203.83 500,204.14 500.5,204.45 501,204.76 501.5,205.07 502,205.38 502.5,205.68 503,205.98 503.5,206.27 504,206.56 504.5,206.84 505,207.12 505.5,207.4 506,207.66 506.5,207.93 507,208.18 507.5,208.43 508,208.67 508.5,208.91 509,209.14 509.5,209.36 510,209.57 510.5,209.78 511,209.98 511.5,210.18 512,210.37 512.5,210.55 513,210.72 513.5,210.88 514,211.04 514.5,211.2 515,211.34 515.5,211.48 516,211.62 516.5,211.74 517,211.86 517.5,211.98 518,212.09 518.5,212.19 519,212.29 519.5,212.38 520,212.47 520.5,212.56 521,212.63 521.5,212.71 522,212.78 522.5,212.84 523,212.91 523.5,212.96 524,213.02 524.5,213.07 525,213.12 525.5,213.16 526,213.2 526.5,213.24 527,213.28 527.5,213.31 528,213.34 528.5,213.37 529,213.4 529.5,213.42 530,213.45 530.5,213.47 531,213.49 531.5,213.51 532,213.52 532.5,213.54 533,213.55 533.5,213.57 534,213.58 534.5,213.59 535,213.6 535.5,213.61 536,213.62 536.5,213.63 537,213.63 537.5,213.64 538,213.65 538.5,213.65 539,213.66 539.5,213.66 540,213.66 540.5,213.67 541,213.67 541.5,213.67 542,213.68 542.5,213.68 543,213.68 543.5,213.68 544,213.69 544.5,213.69 545,213.69 545.5,213.69 546,213.69 546.5,213.69 547,213.69 547.5,213.69 548,213.69 548.5,213.69 549,213.7 549.5,213.7 550,213.7 550.5,213.7 551,213.7 551.5,213.7 552,213.7 552.5,213.7 553,213.7 553.5,213.7 554,213.7 554.5,213.7 555,213.7 555.5,213.7 556,213.7 556.5,213.7 557,213.7 557.5,213.7 558,213.7 558.5,213.7 559,213.7 559.5,213.7 560,213.7 560.5,213.7 561,213.7 561.5,213.7 562,213.7 562.5,213.7 563,213.7 563.5,213.7 564,213.7 564.5,213.7 565,213.7 565.5,213.7 566,213.7 566.5,213.7 567,213.7 567.5,213.7 568,213.7 568.5,213.7 569,213.7 569.5,213.7 570,213.7 570.5,213.7 571,213.7 571.5,213.7 572,213.7 572.5,213.7 573,213.7 573.5,213.7 574,213.7 574.5,213.7 575,213.7 575.5,213.7 576,213.7 576.5,213.7 577,213.7 577.5,213.7 578,213.7 578.5,213.7 579,213.7 579.5,213.7 580,213.7 580.5,213.7 581,213.7 581.5,213.7 582,213.7 582.5,213.7 583,213.7 583.5,213.7 584,213.7 584.5,213.7 585,213.7 585.5,213.7 586,213.7 586.5,213.7 587,213.7 587.5,213.7 588,213.7 588.5,213.7 589,213.7 589.5,213.7 590,213.7 590.5,213.7 591,213.7 591.5,213.7 592,213.7 592.5,213.7 593,213.7 593.5,213.7 594,213.7 594.5,213.7 595,213.7 595.5,213.7 596,213.7 596.5,213.7 597,213.7 597.5,213.7 598,213.7 598.5,213.7 599,213.7 599.5,213.7 600,213.7 600.5,213.7 601,213.7 601.5,213.7 602,213.7 602.5,213.7 603,213.7 603.5,213.7 604,213.7 604.5,213.7 605,213.7 605.5,213.7 606,213.7 606.5,213.7 607,213.7 607.5,213.7 608,213.7 608.5,213.7 609,213.7 609.5,213.7 610,213.7 610.5,213.7 611,213.7 611.5,213.7 612,213.7 612.5,213.7 613,213.7 613.5,213.7 614,213.7 614.5,213.7 615,213.7 615.5,213.7 616,213.7 616.5,213.7 617,213.7 617.5,213.7 618,213.7 618.5,213.7 619,213.7 619.5,213.7 620,213.7 620.5,213.7 621,213.7 621.5,213.7 622,213.7 622.5,213.7 623,213.7 623.5,213.7 624,213.7 624.5,213.7 625,213.7 625.5,213.7 626,213.7 626.5,213.7 627,213.7 627.5,213.7 628,213.7 628.5,213.7 629,213.7 629.5,213.7 630,213.7 630.5,213.7 631,213.7 631.5,213.7 632,213.7 632.5,213.7 633,213.7 633.5,213.7 634,213.7 634.5,213.7 635,213.7 635.5,213.7 636,213.7 636.5,213.7 637,213.7 637.5,213.7 638,213.7 638.5,213.7 639,213.7 639.5,213.7 640,213.7 640.5,213.7 641,213.7 641.5,213.7 642,213.7 642.5,213.7 643,213.7 643.5,213.7 644,213.7"/>
<polyline fill="none" stroke="#c838c8" stroke-width="1.3" stroke-linejoin="round" points="376.5,213.7 377,213.7 377.5,213.7 378,213.7 378.5,213.7 379,213.7 379.5,213.7 380,213.7 380.5,213.7 381,213.69 381.5,213.69 382,213.69 382.5,213.69 383,213.69 383.5,213.69 384,213.69 384.5,213.69 385,213.69 385.5,213.68 386,213.68 386.5,213.68 387,213.68 387.5,213.67 388,213.67 388.5,213.67 389,213.66 389.5,213.66 390,213.65 390.5,213.65 391,213.64 391.5,213.64 392,213.63 392.5,213.62 393,213.61 393.5,213.61 394,213.6 394.5,213.58 395,213.57 395.5,213.56 396,213.55 396.5,213.53 397,213.51 397.5,213.5 398,213.48 398.5,213.46 399,213.43 399.5,213.41 400,213.39 400.5,213.36 401,213.33 401.5,213.3 402,213.26 402.5,213.23 403,213.19 403.5,213.15 404,213.1 404.5,213.06 405,213.01 405.5,212.96 406,212.9 406.5,212.85 407,212.79 407.5,212.72 408,212.66 408.5,212.59 409,212.51 409.5,212.44 410,212.36 410.5,212.27 411,212.19 411.5,212.1 412,212.01 412.5,211.91 413,211.81 413.5,211.71 414,211.6 414.5,211.49 415,211.38 415.5,211.27 416,211.15 416.5,211.03 417,210.91 417.5,210.78 418,210.66 418.5,210.53 419,210.4 419.5,210.27 420,210.14 420.5,210.01 421,209.88 421.5,209.75 422,209.62 422.5,209.49 423,209.36 423.5,209.23 424,209.1 424.5,208.98 425,208.85 425.5,208.73 426,208.62 426.5,208.5 427,208.39 427.5,208.29 428,208.19 428.5,208.09 429,208 429.5,207.92 430,207.84 430.5,207.76 431,207.7 431.5,207.64 432,207.58 432.5,207.53 433,207.49 433.5,207.46 434,207.43 434.5,207.41 435,207.4 435.5,207.4 436,207.4 436.5,207.41 437,207.43 437.5,207.46 438,207.49 438.5,207.53 439,207.58 439.5,207.64 440,207.7 440.5,207.76 441,207.84 441.5,207.92 442,208 442.5,208.09 443,208.19 443.5,208.29 444,208.39 444.5,208.5 445,208.62 445.5,208.73 446,208.85 446.5,208.98 447,209.1 447.5,209.23 448,209.36 448.5,209.49 449,209.62 449.5,209.75 450,209.88 450.5,210.01 451,210.14 451.5,210.27 452,210.4 452.5,210.53 453,210.66 453.5,210.78 454,210.91 454.5,211.03 455,211.15 455.5,211.27 456,211.38 456.5,211.49 457,211.6 457.5,211.71 458,211.81 458.5,211.91 459,212.01 459.5,212.1 460,212.19 460.5,212.27 461,212.36 461.5,212.44 462,212.51 462.5,212.59 463,212.66 463.5,212.72 464,212.79 464.5,212.85 465,212.9 465.5,212.96 466,213.01 466.5,213.06 467,213.1 467.5,213.15 468,213.19 468.5,213.23 469,213.26 469.5,213.3 470,213.33 470.5,213.36 471,213.39 471.5,213.41 472,213.43 472.5,213.46 473,213.48 473.5,213.5 474,213.51 474.5,213.53 475,213.55 475.5,213.56 476,213.57 476.5,213.58 477,213.6 477.5,213.61 478,213.61 478.5,213.62 479,213.63 479.5,213.64 480,213.64 480.5,213.65 481,213.65 481.5,213.66 482,213.66 482.5,213.67 483,213.67 483.5,213.67 484,213.68 484.5,213.68 485,213.68 485.5,213.68 486,213.69 486.5,213.69 487,213.69 487.5,213.69 488,213.69 488.5,213.69 489,213.69 489.5,213.69 490,213.69 490.5,213.7 491,213.7 491.5,213.7 492,213.7 492.5,213.7 493,213.7 493.5,213.7 494,213.7 494.5,213.7 495,213.7 495.5,213.7 496,213.7 496.5,213.7 497,213.7 497.5,213.7 498,213.7 498.5,213.7 499,213.7 499.5,213.7 500,213.7 500.5,213.7 501,213.7 501.5,213.7 502,213.7 502.5,213.7 503,213.7 503.5,213.7 504,213.7 504.5,213.7 505,213.7 505.5,213.7 506,213.7 506.5,213.7 507,213.7 507.5,213.7 508,213.7 508.5,213.7 509,213.7 509.5,213.7 510,213.7 510.5,213.7 511,213.7 511.5,213.7 512,213.7 512.5,213.7 513,213.7 513.5,213.7 514,213.7 514.5,213.7 515,213.7 515.5,213.7 516,213.7 516.5,213.7 517,213.7 517.5,213.7 518,213.7 518.5,213.7 519,213.7 519.5,213.7 520,213.7 520.5,213.7 521,213.7 521.5,213.7 522,213.7 522.5,213.7 523,213.7 523.5,213.7 524,213.7 524.5,213.7 525,213.7 525.5,213.7 526,213.7 526.5,213.7 527,213.7 527.5,213.7 528,213.7 528.5,213.7 529,213.7 529.5,213.7 530,213.7 530.5,213.7 531,213.7 531.5,213.7 532,213.7 532.5,213.7 533,213.7 533.5,213.7 534,213.7 534.5,213.7 535,213.7 535.5,213.7 536,213.7 536.5,213.7 537,213.7 537.5,213.7 538,213.7 538.5,213.7 539,213.7 539.5,213.7 540,213.7 540.5,213.7 541,213.7 541.5,213.7 542,213.7 542.5,213.7 543,213.7 543.5,213.7 544,213.7 544.5,213.7 545,213.7 545.5,213.7 546,213.7 546.5,213.7 547,213.7 547.5,213.7 548,213.7 548.5,213.7 549,213.7 549.5,213.7 550,213.7 550.5,213.7 551,213.7 551.5,213.7 552,213.7 552.5,213.7 553,213.7 553.5,213.7 554,213.7 554.5,213.7 555,213.7 555.5,213.7 556,213.7 556.5,213.7 557,213.7 557.5,213.7 558,213.7 558.5,213.7 559,213.7 559.5,213.7 560,213.7 560.5,213.7 561,213.7 561.5,213.7 562,213.7 562.5,213.7 563,213.7 563.5,213.7 564,213.7 564.5,213.7 565,213.7 565.5,213.7 566,213.7 566.5,213.7 567,213.7 567.5,213.7 568,213.7 568.5,213.7 569,213.7 569.5,213.7 570,213.7 570.5,213.7 571,213.7 571.5,213.7 572,213.7 572.5,213.7 573,213.7 573.5,213.7 574,213.7 574.5,213.7 575,213.7 575.5,213.7 576,213.7 576.5,213.7 577,213.7 577.5,213.7 578,213.7 578.5,213.7 579,213.7 579.5,213.7 580,213.7 580.5,213.7 581,213.7 581.5,213.7 582,213.7 582.5,213.7 583,213.7 583.5,213.7 584,213.7 584.5,213.7 585,213.7 585.5,213.7 586,213.7 586.5,213.7 587,213.7 587.5,213.7 588,213.7 588.5,213.7 589,213.7 589.5,213.7 590,213.7 590.5,213.7 591,213.7 591.5,213.7 592,213.7 592.5,213.7 593,213.7 593.5,213.7 594,213.7 594.5,213.7 595,213.7 595.5,213.7 596,213.7 596.5,213.7 597,213.7 597.5,213.7 598,213.7 598.5,213.7 599,213.7 599.5,213.7 600,213.7 600.5,213.7 601,213.7 601.5,213.7 602,213.7 602.5,213.7 603,213.7 603.5,213.7 604,213.7 604.5,213.7 605,213.7 605.5,213.7 606,213.7 606.5,213.7 607,213.7 607.5,213.7 608,213.7 608.5,213.7 609,213.7 609.5,213.7 610,213.7 610.5,213.7 611,213.7 611.5,213.7 612,213.7 612.5,213.7 613,213.7 613.5,213.7 614,213.7 614.5,213.7 615,213.7 615.5,213.7 616,213.7 616.5,213.7 617,213.7 617.5,213.7 618,213.7 618.5,213.7 619,213.7 619.5,213.7 620,213.7 620.5,213.7 621,213.7 621.5,213.7 622,213.7 622.5,213.7 623,213.7 623.5,213.7 624,213.7 624.5,213.7 625,213.7 625.5,213.7 626,213.7 626.5,213.7 627,213.7 627.5,213.7 628,213.7 628.5,213.7 629,213.7 629.5,213.7 630,213.7 630.5,213.7 631,213.7 631.5,213.7 632,213.7 632.5,213.7 633,213.7 633.5,213.7 634,213.7 634.5,213.7 635,213.7 635.5,213.7 636,213.7 636.5,213.7 637,213.7 637.5,213.7 638,213.7 638.5,213.7 639,213.7 639.5,213.7 640,213.7 640.5,213.7 641,213.7 641.5,213.7 642,213.7 642.5,213.7 643,213.7 643.5,213.7 644,213.7"/>
<polyline fill="none" stroke="#f2e800" stroke-width="1.6" stroke-linejoin="round" points="376.5,213.6 377,213.59 377.5,213.58 378,213.57 378.5,213.56 379,213.54 379.5,213.53 380,213.52 380.5,213.5 381,213.49 381.5,213.47 382,213.45 382.5,213.44 383,213.42 383.5,213.4 384,213.39 384.5,213.37 385,213.35 385.5,213.33 386,213.31 386.5,213.3 387,213.28 387.5,213.26 388,213.24 388.5,213.22 389,213.2 389.5,213.18 390,213.15 390.5,213.13 391,213.11 391.5,213.09 392,213.06 392.5,213.04 393,213.01 393.5,212.99 394,212.96 394.5,212.93 395,212.91 395.5,212.88 396,212.85 396.5,212.81 397,212.78 397.5,212.75 398,212.71 398.5,212.67 399,212.63 399.5,212.59 400,212.55 400.5,212.5 401,212.46 401.5,212.41 402,212.35 402.5,212.3 403,212.24 403.5,212.18 404,212.12 404.5,212.06 405,211.99 405.5,211.92 406,211.85 406.5,211.77 407,211.69 407.5,211.6 408,211.52 408.5,211.43 409,211.33 409.5,211.24 410,211.14 410.5,211.03 411,210.92 411.5,210.81 412,210.7 412.5,210.58 413,210.46 413.5,210.34 414,210.21 414.5,210.08 415,209.94 415.5,209.81 416,209.67 416.5,209.53 417,209.38 417.5,209.24 418,209.09 418.5,208.94 419,208.79 419.5,208.63 420,208.48 420.5,208.33 421,208.17 421.5,208.01 422,207.86 422.5,207.71 423,207.55 423.5,207.4 424,207.25 424.5,207.1 425,206.95 425.5,206.8 426,206.66 426.5,206.52 427,206.38 427.5,206.25 428,206.12 428.5,206 429,205.88 429.5,205.76 430,205.65 430.5,205.54 431,205.44 431.5,205.35 432,205.26 432.5,205.17 433,205.09 433.5,205.02 434,204.95 434.5,204.89 435,204.83 435.5,204.78 436,204.74 436.5,204.7 437,204.66 437.5,204.63 438,204.61 438.5,204.59 439,204.57 439.5,204.56 440,204.55 440.5,204.55 441,204.55 441.5,204.55 442,204.55 442.5,204.55 443,204.56 443.5,204.56 444,204.57 444.5,204.57 445,204.57 445.5,204.58 446,204.58 446.5,204.57 447,204.57 447.5,204.56 448,204.55 448.5,204.53 449,204.51 449.5,204.48 450,204.45 450.5,204.4 451,204.36 451.5,204.3 452,204.24 452.5,204.17 453,204.09 453.5,204 454,203.91 454.5,203.81 455,203.69 455.5,203.57 456,203.44 456.5,203.3 457,203.15 457.5,202.99 458,202.82 458.5,202.64 459,202.46 459.5,202.26 460,202.06 460.5,201.85 461,201.63 461.5,201.41 462,201.17 462.5,200.93 463,200.69 463.5,200.44 464,200.18 464.5,199.92 465,199.65 465.5,199.38 466,199.11 466.5,198.83 467,198.56 467.5,198.28 468,198 468.5,197.72 469,197.44 469.5,197.16 470,196.89 470.5,196.62 471,196.35 471.5,196.09 472,195.83 472.5,195.58 473,195.34 473.5,195.1 474,194.87 474.5,194.65 475,194.44 475.5,194.24 476,194.05 476.5,193.87 477,193.71 477.5,193.55 478,193.41 478.5,193.28 479,193.17 479.5,193.07 480,192.98 480.5,192.91 481,192.85 481.5,192.8 482,192.77 482.5,192.76 483,192.76 483.5,192.77 484,192.8 484.5,192.84 485,192.9 485.5,192.97 486,193.05 486.5,193.14 487,193.24 487.5,193.36 488,193.48 488.5,193.62 489,193.76 489.5,193.91 490,194.07 490.5,194.23 491,194.4 491.5,194.58 492,194.75 492.5,194.93 493,195.11 493.5,195.29 494,195.47 494.5,195.65 495,195.82 495.5,195.99 496,196.15 496.5,196.31 497,196.46 497.5,196.6 498,196.72 498.5,196.84 499,196.95 499.5,197.04 500,197.12 500.5,197.18 501,197.23 501.5,197.26 502,197.27 502.5,197.26 503,197.24 503.5,197.2 504,197.13 504.5,197.05 505,196.95 505.5,196.83 506,196.69 506.5,196.53 507,196.35 507.5,196.16 508,195.95 508.5,195.72 509,195.48 509.5,195.23 510,194.96 510.5,194.68 511,194.39 511.5,194.1 512,193.79 512.5,193.49 513,193.18 513.5,192.86 514,192.55 514.5,192.24 515,191.92 515.5,191.62 516,191.31 516.5,191.02 517,190.73 517.5,190.44 518,190.17 518.5,189.9 519,189.64 519.5,189.39 520,189.14 520.5,188.91 521,188.68 521.5,188.46 522,188.25 522.5,188.04 523,187.83 523.5,187.63 524,187.43 524.5,187.22 525,187.02 525.5,186.81 526,186.59 526.5,186.37 527,186.14 527.5,185.9 528,185.64 528.5,185.37 529,185.09 529.5,184.79 530,184.47 530.5,184.14 531,183.78 531.5,183.41 532,183.01 532.5,182.6 533,182.16 533.5,181.7 534,181.22 534.5,180.73 535,180.21 535.5,179.67 536,179.12 536.5,178.55 537,177.97 537.5,177.38 538,176.77 538.5,176.15 539,175.52 539.5,174.88 540,174.24 540.5,173.59 541,172.94 541.5,172.28 542,171.62 542.5,170.96 543,170.29 543.5,169.63 544,168.96 544.5,168.3 545,167.63 545.5,166.95 546,166.27 546.5,165.59 547,164.89 547.5,164.19 548,163.47 548.5,162.74 549,161.98 549.5,161.21 550,160.4 550.5,159.57 551,158.71 551.5,157.8 552,156.86 552.5,155.87 553,154.82 553.5,153.72 554,152.57 554.5,151.34 555,150.05 555.5,148.69 556,147.26 556.5,145.75 557,144.15 557.5,142.47 558,140.71 558.5,138.86 559,136.92 559.5,134.89 560,132.77 560.5,130.57 561,128.27 561.5,125.89 562,123.42 562.5,120.86 563,118.23 563.5,115.52 564,112.74 564.5,109.88 565,106.97 565.5,104 566,100.97 566.5,97.9 567,94.79 567.5,91.66 568,88.49 568.5,85.32 569,82.14 569.5,78.96 570,75.79 570.5,72.64 571,69.53 571.5,66.46 572,63.43 572.5,60.47 573,57.58 573.5,54.77 574,52.05 574.5,49.43 575,46.92 575.5,44.53 576,42.26 576.5,40.13 577,38.15 577.5,36.31 578,34.64 578.5,33.13 579,31.79 579.5,30.62 580,29.64 580.5,28.85 581,28.24 581.5,27.83 582,27.61 582.5,27.58 583,27.79 583.5,28.26 584,28.99 584.5,29.97 585,31.21 585.5,32.68 586,34.38 586.5,36.3 587,38.43 587.5,40.75 588,43.24 588.5,45.91 589,48.72 589.5,51.67 590,54.74 590.5,57.93 591,61.21 591.5,64.57 592,68 592.5,71.49 593,75.03 593.5,78.61 594,82.21 594.5,85.84 595,89.47 595.5,93.11 596,96.73 596.5,100.35 597,103.95 597.5,107.51 598,111.05 598.5,114.55 599,118 599.5,121.41 600,124.77 600.5,128.06 601,131.3 601.5,134.48 602,137.59 602.5,140.63 603,143.6 603.5,146.49 604,149.31 604.5,152.06 605,154.72 605.5,157.31 606,159.82 606.5,162.24 607,164.59 607.5,166.85 608,169.03 608.5,171.14 609,173.16 609.5,175.1 610,176.97 610.5,178.76 611,180.47 611.5,182.11 612,183.68 612.5,185.18 613,186.6 613.5,187.96 614,189.26 614.5,190.49 615,191.66 615.5,192.77 616,193.82 616.5,194.81 617,195.76 617.5,196.65 618,197.49 618.5,198.29 619,199.04 619.5,199.74 620,200.41 620.5,201.04 621,201.63 621.5,202.19 622,202.71 622.5,203.2 623,203.67 623.5,204.1 624,204.51 624.5,204.89 625,205.25 625.5,205.59 626,205.9 626.5,206.2 627,206.48 627.5,206.74 628,206.99 628.5,207.22 629,207.44 629.5,207.64 630,207.83 630.5,208.01 631,208.18 631.5,208.34 632,208.5 632.5,208.64 633,208.77 633.5,208.9 634,209.02 634.5,209.14 635,209.25 635.5,209.35 636,209.45 636.5,209.54 637,209.63 637.5,209.72 638,209.8 638.5,209.88 639,209.95 639.5,210.03 640,210.1 640.5,210.16 641,210.23 641.5,210.29 642,210.35 642.5,210.41 643,210.46 643.5,210.52 644,210.57"/>
<g stroke="#000" stroke-width="1.5"><line x1="375.5" y1="213.8" x2="375.5" y2="216.8"/><line x1="395.26" y1="213.8" x2="395.26" y2="218.6"/><line x1="415.01" y1="213.8" x2="415.01" y2="216.8"/><line x1="434.77" y1="213.8" x2="434.77" y2="218.6"/><line x1="454.53" y1="213.8" x2="454.53" y2="216.8"/><line x1="474.29" y1="213.8" x2="474.29" y2="218.6"/><line x1="494.04" y1="213.8" x2="494.04" y2="216.8"/><line x1="513.8" y1="213.8" x2="513.8" y2="218.6"/><line x1="533.56" y1="213.8" x2="533.56" y2="216.8"/><line x1="553.31" y1="213.8" x2="553.31" y2="218.6"/><line x1="573.07" y1="213.8" x2="573.07" y2="216.8"/><line x1="592.83" y1="213.8" x2="592.83" y2="218.6"/><line x1="612.58" y1="213.8" x2="612.58" y2="216.8"/><line x1="632.34" y1="213.8" x2="632.34" y2="218.6"/><line x1="652.1" y1="213.8" x2="652.1" y2="216.8"/><line x1="671.86" y1="213.8" x2="671.86" y2="218.6"/></g>
<g font-size="12" text-anchor="middle"><text x="395.26" y="236">294</text><text x="434.77" y="236">292</text><text x="474.29" y="236">290</text><text x="513.8" y="236">288</text><text x="553.31" y="236">286</text><text x="592.83" y="236">284</text><text x="632.34" y="236">282</text><text x="671.86" y="236">280</text></g>
<text x="523.68" y="257.5" font-size="13.8" text-anchor="middle">Binding energy (eV)</text>
<text transform="translate(362,108) rotate(-90)" font-size="13.5" text-anchor="middle">Intensity (a.u.)</text>
<text x="353.8" y="14.5" font-size="18" font-weight="bold">b</text>
<rect x="392.5" y="10.1" width="5" height="5" fill="#000"/><text x="415" y="17.7" font-size="13.8">Raw data</text><line x1="379" y1="29.3" x2="410.5" y2="29.3" stroke="#c86060" stroke-width="1.3"/><text x="415" y="34.4" font-size="13.8">C-C</text><line x1="379" y1="45.8" x2="410.5" y2="45.8" stroke="#50d050" stroke-width="1.3"/><text x="415" y="50.9" font-size="13.8">C=O</text><line x1="379" y1="62.3" x2="410.5" y2="62.3" stroke="#3030a0" stroke-width="1.3"/><text x="415" y="67.4" font-size="13.8">C-O</text><line x1="379" y1="78.7" x2="410.5" y2="78.7" stroke="#60e0e8" stroke-width="1.3"/><text x="415" y="83.8" font-size="13.8">O-C=O</text><line x1="379" y1="98.3" x2="410.5" y2="98.3" stroke="#c048c0" stroke-width="1.3"/><text x="415" y="103.4" font-size="13.8"><tspan font-family="Liberation Serif" font-size="15" stroke="#000" stroke-width="0.35">π–π</tspan><tspan font-size="9" dy="-5">*</tspan></text><line x1="379" y1="115.3" x2="410.5" y2="115.3" stroke="#f0ec60" stroke-width="1.3"/><text x="415" y="120.4" font-size="13.8">Cumulative</text>
</svg>
</body></html>
